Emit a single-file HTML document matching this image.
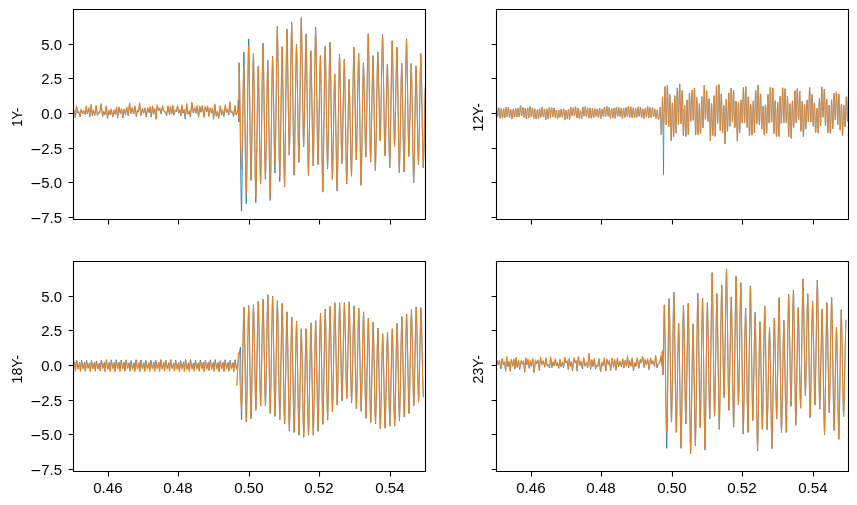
<!DOCTYPE html><html><head><meta charset="utf-8"><style>html,body{margin:0;padding:0;background:#fff;width:857px;height:505px;overflow:hidden}svg{display:block;will-change:transform}text{font-family:"Liberation Sans",sans-serif;fill:#000}</style></head><body><svg width="857" height="505" viewBox="0 0 857 505">
<defs>
<clipPath id="c0"><rect x="73.20" y="9.20" width="352.60" height="210.60"/></clipPath>
<clipPath id="c1"><rect x="496.20" y="9.20" width="352.60" height="210.60"/></clipPath>
<clipPath id="c2"><rect x="73.20" y="261.20" width="352.60" height="210.60"/></clipPath>
<clipPath id="c3"><rect x="496.20" y="261.20" width="352.60" height="210.60"/></clipPath>
</defs>
<g clip-path="url(#c0)" fill="none" stroke-width="0.85" stroke-linejoin="round">
<path stroke="#1f77b4" d="M73.11 112.74L74.12 110.94L75.35 117.81L76.48 106.57L77.75 112.99L79.06 112.62L80.14 116.79L81.16 109.70L82.62 113.71L83.87 111.27L85.22 114.68L86.22 106.81L87.35 113.94L88.77 108.55L89.82 116.94L91.26 105.12L92.29 115.61L93.36 110.88L94.85 115.64L96.17 106.08L97.39 115.50L98.44 113.12L99.77 113.19L101.10 104.47L102.58 116.57L103.65 111.81L104.93 114.74L106.25 106.61L107.45 118.43L108.89 110.72L110.05 114.80L111.24 109.68L112.72 116.97L113.98 110.67L115.28 114.39L116.54 107.93L117.61 118.17L118.99 107.72L120.20 113.53L121.51 109.28L122.88 118.07L124.06 109.66L125.53 114.85L126.67 107.85L128.16 115.69L129.61 103.69L130.82 113.74L132.28 108.18L133.54 114.11L134.94 106.65L136.26 116.61L137.46 110.73L138.56 111.84L139.62 103.51L140.92 115.53L142.40 109.19L143.72 113.31L144.92 108.52L146.29 117.03L147.69 108.38L149.15 112.76L150.16 107.11L151.25 117.16L152.54 106.46L153.56 114.34L154.82 109.54L156.13 119.25L157.15 105.80L158.58 110.67L159.74 108.77L161.13 114.12L162.53 106.41L163.97 111.68L165.29 112.37L166.62 115.70L168.03 106.56L169.46 114.92L170.47 107.31L171.75 114.20L172.88 106.01L173.93 115.29L175.26 110.49L176.45 111.69L177.57 106.12L178.61 113.26L179.76 110.37L180.83 116.06L181.87 105.70L183.02 113.24L184.12 110.22L185.30 119.10L186.67 104.45L188.00 114.25L189.26 111.47L190.40 117.09L191.85 102.88L193.25 112.96L194.74 108.35L196.13 113.29L197.22 106.13L198.58 117.30L199.79 106.76L201.07 112.33L202.43 106.28L203.89 117.28L205.27 106.99L206.62 111.97L207.68 106.59L208.74 116.57L209.97 108.52L211.42 113.13L212.46 108.70L213.61 119.23L214.84 104.84L216.29 116.44L217.48 111.81L218.73 118.62L220.16 106.65L221.50 115.12L222.64 110.57L223.91 116.54L225.35 105.67L226.40 112.53L227.52 109.89L228.77 115.01L229.79 102.61L230.82 112.33L232.27 112.17L233.65 116.60L234.99 106.35L236.07 114.92L237.53 112.23L238.30 100.00L238.90 122.00L238.99 92.38L239.08 62.76L239.35 72.03L239.61 86.35L239.88 104.77L240.15 125.88L240.41 147.92L240.68 169.03L240.94 187.46L241.21 201.78L241.47 211.05L241.74 201.11L242.01 185.76L242.27 166.01L242.54 143.39L242.80 119.76L243.07 97.14L243.33 77.38L243.60 62.04L243.87 52.10L244.13 61.58L244.40 76.22L244.66 95.06L244.93 116.65L245.19 139.19L245.46 160.78L245.73 179.62L245.99 194.26L246.26 203.74L246.52 193.43L246.79 177.52L247.05 157.04L247.32 133.57L247.59 109.07L247.85 85.61L248.12 65.13L248.38 49.21L248.65 38.91L248.91 47.76L249.18 61.43L249.45 79.02L249.71 99.18L249.98 120.22L250.24 140.38L250.51 157.97L250.77 171.64L251.04 180.50L251.31 172.55L251.57 160.28L251.84 144.49L252.10 126.40L252.37 107.51L252.63 89.42L252.90 73.63L253.17 61.37L253.43 53.42L253.70 62.75L253.96 77.15L254.23 95.69L254.49 116.93L254.76 139.11L255.03 160.35L255.29 178.89L255.56 193.29L255.82 202.62L256.09 194.09L256.36 180.91L256.62 163.94L256.89 144.51L257.15 124.22L257.42 104.79L257.68 87.82L257.95 74.64L258.22 66.11L258.48 73.46L258.75 84.80L259.01 99.41L259.28 116.14L259.54 133.61L259.81 150.34L260.08 164.95L260.34 176.29L260.61 183.64L260.87 174.85L261.14 161.27L261.40 143.78L261.67 123.76L261.94 102.85L262.20 82.82L262.47 65.34L262.73 51.76L263.00 42.97L263.26 51.50L263.53 64.67L263.80 81.62L264.06 101.04L264.33 121.31L264.59 140.73L264.86 157.68L265.12 170.85L265.39 179.38L265.66 171.93L265.92 160.43L266.19 145.62L266.45 128.66L266.72 110.94L266.98 93.98L267.25 79.18L267.52 67.67L267.78 60.22L268.05 68.99L268.31 82.53L268.58 99.96L268.84 119.93L269.11 140.78L269.38 160.75L269.64 178.18L269.91 191.72L270.17 200.49L270.44 191.45L270.70 177.50L270.97 159.54L271.24 138.97L271.50 117.48L271.77 96.91L272.03 78.95L272.30 65.00L272.56 55.96L272.83 63.28L273.10 74.59L273.36 89.14L273.63 105.82L273.89 123.23L274.16 139.90L274.42 154.46L274.69 165.76L274.96 173.09L275.22 163.89L275.49 149.69L275.75 131.42L276.02 110.48L276.28 88.62L276.55 67.69L276.82 49.41L277.08 35.21L277.35 26.01L277.61 35.74L277.88 50.75L278.15 70.07L278.41 92.21L278.68 115.32L278.94 137.45L279.21 156.78L279.47 171.79L279.74 181.51L280.01 173.07L280.27 160.04L280.54 143.26L280.80 124.05L281.07 103.98L281.33 84.77L281.60 67.99L281.87 54.96L282.13 46.52L282.40 55.29L282.66 68.83L282.93 86.26L283.19 106.23L283.46 127.08L283.73 147.05L283.99 164.48L284.26 178.02L284.52 186.79L284.79 176.92L285.05 161.68L285.32 142.07L285.59 119.60L285.85 96.14L286.12 73.68L286.38 54.07L286.65 38.83L286.91 28.96L287.18 36.85L287.45 49.03L287.71 64.70L287.98 82.66L288.24 101.42L288.51 119.38L288.77 135.05L289.04 147.23L289.31 155.12L289.57 146.81L289.84 133.99L290.10 117.48L290.37 98.56L290.63 78.82L290.90 59.90L291.17 43.39L291.43 30.57L291.70 22.26L291.96 31.82L292.23 46.59L292.49 65.60L292.76 87.37L293.03 110.11L293.29 131.88L293.56 150.89L293.82 165.65L294.09 175.22L294.35 167.04L294.62 154.41L294.89 138.15L295.15 119.53L295.42 100.08L295.68 81.46L295.95 65.20L296.21 52.57L296.48 44.39L296.75 51.77L297.01 63.18L297.28 77.86L297.54 94.68L297.81 112.24L298.08 129.06L298.34 143.74L298.61 155.14L298.87 162.53L299.14 153.47L299.40 139.48L299.67 121.47L299.94 100.83L300.20 79.29L300.47 58.66L300.73 40.65L301.00 26.65L301.26 17.59L301.53 25.66L301.80 38.13L302.06 54.17L302.33 72.55L302.59 91.74L302.86 110.12L303.12 126.16L303.39 138.62L303.66 146.70L303.92 139.64L304.19 128.74L304.45 114.72L304.72 98.65L304.98 81.88L305.25 65.81L305.52 51.78L305.78 40.89L306.05 33.83L306.31 42.70L306.58 56.39L306.84 74.01L307.11 94.19L307.38 115.27L307.64 135.45L307.91 153.07L308.17 166.76L308.44 175.63L308.70 167.81L308.97 155.75L309.24 140.22L309.50 122.44L309.77 103.87L310.03 86.08L310.30 70.55L310.56 58.49L310.83 50.68L311.10 57.88L311.36 68.99L311.63 83.29L311.89 99.68L312.16 116.78L312.42 133.17L312.69 147.47L312.96 158.58L313.22 165.78L313.49 157.10L313.75 143.71L314.02 126.47L314.28 106.72L314.55 86.09L314.82 66.34L315.08 49.10L315.35 35.71L315.61 27.03L315.88 35.64L316.14 48.94L316.41 66.05L316.68 85.66L316.94 106.13L317.21 125.74L317.47 142.85L317.74 156.15L318.00 164.76L318.27 157.94L318.54 147.39L318.80 133.82L319.07 118.27L319.33 102.04L319.60 86.49L319.87 72.92L320.13 62.38L320.40 55.55L320.66 64.09L320.93 77.28L321.19 94.26L321.46 113.71L321.73 134.01L321.99 153.46L322.26 170.44L322.52 183.63L322.79 192.17L323.05 183.05L323.32 168.97L323.59 150.84L323.85 130.08L324.12 108.40L324.38 87.64L324.65 69.52L324.91 55.44L325.18 46.31L325.45 53.98L325.71 65.80L325.98 81.03L326.24 98.47L326.51 116.67L326.77 134.11L327.04 149.34L327.31 161.16L327.57 168.82L327.84 160.91L328.10 148.69L328.37 132.96L328.63 114.95L328.90 96.13L329.17 78.12L329.43 62.39L329.70 50.17L329.96 42.25L330.23 50.83L330.49 64.07L330.76 81.11L331.03 100.63L331.29 121.01L331.56 140.53L331.82 157.57L332.09 170.81L332.35 179.38L332.62 172.79L332.89 162.61L333.15 149.50L333.42 134.49L333.68 118.81L333.95 103.80L334.21 90.70L334.48 80.52L334.75 73.92L335.01 81.25L335.28 92.56L335.54 107.11L335.81 123.78L336.07 141.19L336.34 157.87L336.61 172.42L336.87 183.73L337.14 191.05L337.40 182.47L337.67 169.22L337.93 152.17L338.20 132.64L338.47 112.24L338.73 92.71L339.00 75.66L339.26 62.41L339.53 53.83L339.79 60.69L340.06 71.30L340.33 84.94L340.59 100.58L340.86 116.90L341.12 132.53L341.39 146.18L341.66 156.78L341.92 163.65L342.19 157.12L342.45 147.03L342.72 134.06L342.98 119.19L343.25 103.66L343.52 88.80L343.78 75.82L344.05 65.74L344.31 59.21L344.58 67.01L344.84 79.06L345.11 94.58L345.38 112.35L345.64 130.91L345.91 148.68L346.17 164.19L346.44 176.24L346.70 184.05L346.97 177.49L347.24 167.37L347.50 154.34L347.77 139.42L348.03 123.83L348.30 108.91L348.56 95.88L348.83 85.76L349.10 79.20L349.36 85.27L349.63 94.64L349.89 106.69L350.16 120.51L350.42 134.93L350.69 148.74L350.96 160.80L351.22 170.17L351.49 176.23L351.75 168.15L352.02 155.68L352.28 139.63L352.55 121.23L352.82 102.03L353.08 83.63L353.35 67.58L353.61 55.11L353.88 47.03L354.14 54.09L354.41 65.00L354.68 79.03L354.94 95.11L355.21 111.91L355.47 127.99L355.74 142.02L356.00 152.93L356.27 159.99L356.54 153.33L356.80 143.04L357.07 129.80L357.33 114.63L357.60 98.79L357.86 83.62L358.13 70.37L358.40 60.08L358.66 53.42L358.93 61.67L359.19 74.41L359.46 90.81L359.72 109.59L359.99 129.20L360.26 147.98L360.52 164.38L360.79 177.12L361.05 185.37L361.32 177.70L361.58 165.86L361.85 150.63L362.12 133.18L362.38 114.95L362.65 97.50L362.91 82.26L363.18 70.43L363.45 62.76L363.71 68.67L363.98 77.79L364.24 89.53L364.51 102.98L364.77 117.03L365.04 130.48L365.31 142.22L365.57 151.34L365.84 157.25L366.10 149.54L366.37 137.62L366.63 122.28L366.90 104.71L367.17 86.37L367.43 68.80L367.70 53.46L367.96 41.55L368.23 33.83L368.49 41.85L368.76 54.24L369.03 70.18L369.29 88.44L369.56 107.51L369.82 125.78L370.09 141.72L370.35 154.10L370.62 162.13L370.89 155.46L371.15 145.17L371.42 131.93L371.68 116.76L371.95 100.92L372.21 85.75L372.48 72.50L372.75 62.22L373.01 55.55L373.28 62.74L373.54 73.84L373.81 88.13L374.07 104.50L374.34 121.60L374.61 137.97L374.87 152.26L375.14 163.36L375.40 170.55L375.67 163.12L375.93 151.66L376.20 136.90L376.47 120.00L376.73 102.35L377.00 85.44L377.26 70.69L377.53 59.22L377.79 51.80L378.06 57.37L378.33 65.99L378.59 77.07L378.86 89.77L379.12 103.04L379.39 115.74L379.65 126.82L379.92 135.43L380.19 141.01L380.45 134.35L380.72 124.06L380.98 110.82L381.25 95.65L381.51 79.81L381.78 64.64L382.05 51.39L382.31 41.10L382.58 34.44L382.84 42.03L383.11 53.75L383.37 68.83L383.64 86.11L383.91 104.16L384.17 121.44L384.44 136.52L384.70 148.24L384.97 155.83L385.24 150.11L385.50 141.29L385.77 129.92L386.03 116.90L386.30 103.31L386.56 90.29L386.83 78.93L387.10 70.10L387.36 64.38L387.63 70.85L387.89 80.83L388.16 93.69L388.42 108.41L388.69 123.78L388.96 138.51L389.22 151.36L389.49 161.34L389.75 167.81L390.02 159.86L390.28 147.59L390.55 131.80L390.82 113.72L391.08 94.83L391.35 76.74L391.61 60.95L391.88 48.68L392.14 40.73L392.41 47.36L392.68 57.59L392.94 70.76L393.21 85.84L393.47 101.59L393.74 116.67L394.00 129.84L394.27 140.07L394.54 146.70L394.80 140.46L395.07 130.84L395.33 118.46L395.60 104.27L395.86 89.45L396.13 75.27L396.40 62.88L396.66 53.26L396.93 47.03L397.19 54.88L397.46 67.01L397.72 82.63L397.99 100.52L398.26 119.19L398.52 137.08L398.79 152.69L399.05 164.82L399.32 172.68L399.58 165.85L399.85 155.29L400.12 141.71L400.38 126.15L400.65 109.90L400.91 94.34L401.18 80.76L401.44 70.20L401.71 63.37L401.98 70.16L402.24 80.66L402.51 94.17L402.77 109.64L403.04 125.80L403.30 141.27L403.57 154.78L403.84 165.27L404.10 172.07L404.37 163.73L404.63 150.86L404.90 134.28L405.16 115.30L405.43 95.48L405.70 76.49L405.96 59.92L406.23 47.04L406.49 38.70L406.76 46.08L407.03 57.46L407.29 72.12L407.56 88.91L407.82 106.44L408.09 123.23L408.35 137.88L408.62 149.27L408.89 156.64L409.15 150.81L409.42 141.81L409.68 130.22L409.95 116.94L410.21 103.07L410.48 89.80L410.75 78.20L411.01 69.20L411.28 63.37L411.54 70.82L411.81 82.34L412.07 97.16L412.34 114.13L412.61 131.86L412.87 148.84L413.14 163.66L413.40 175.17L413.67 182.63L413.93 175.34L414.20 164.09L414.47 149.61L414.73 133.03L415.00 115.71L415.26 99.12L415.53 84.64L415.79 73.39L416.06 66.11L416.33 72.27L416.59 81.78L416.86 94.03L417.12 108.06L417.39 122.71L417.65 136.74L417.92 148.99L418.19 158.50L418.45 164.66L418.72 157.71L418.98 146.97L419.25 133.14L419.51 117.31L419.78 100.77L420.05 84.94L420.31 71.12L420.58 60.38L420.84 53.42L421.11 60.57L421.37 71.62L421.64 85.83L421.91 102.11L422.17 119.12L422.44 135.40L422.70 149.61L422.97 160.66L423.23 167.81L423.50 162.47L423.77 154.21L424.03 143.60L424.30 131.43L424.56 118.73L424.83 106.56L425.09 95.94L425.36 87.69L425.63 82.35"/>
<path stroke="#ff7f0e" d="M73.11 111.74L74.12 109.94L75.35 116.81L76.48 105.57L77.75 111.99L79.06 111.62L80.14 115.79L81.16 108.70L82.62 112.71L83.87 110.27L85.22 113.68L86.22 105.81L87.35 112.94L88.77 107.55L89.82 115.94L91.26 104.12L92.29 114.61L93.36 109.88L94.85 114.64L96.17 105.08L97.39 114.50L98.44 112.12L99.77 112.19L101.10 103.47L102.58 115.57L103.65 110.81L104.93 113.74L106.25 105.61L107.45 117.43L108.89 109.72L110.05 113.80L111.24 108.68L112.72 115.97L113.98 109.67L115.28 113.39L116.54 106.93L117.61 117.17L118.99 106.72L120.20 112.53L121.51 108.28L122.88 117.07L124.06 108.66L125.53 113.85L126.67 106.85L128.16 114.69L129.61 102.69L130.82 112.74L132.28 107.18L133.54 113.11L134.94 105.65L136.26 115.61L137.46 109.73L138.56 110.84L139.62 102.51L140.92 114.53L142.40 108.19L143.72 112.31L144.92 107.52L146.29 116.03L147.69 107.38L149.15 111.76L150.16 106.11L151.25 116.16L152.54 105.46L153.56 113.34L154.82 108.54L156.13 118.25L157.15 104.80L158.58 109.67L159.74 107.77L161.13 113.12L162.53 105.41L163.97 110.68L165.29 111.37L166.62 114.70L168.03 105.56L169.46 113.92L170.47 106.31L171.75 113.20L172.88 105.01L173.93 114.29L175.26 109.49L176.45 110.69L177.57 105.12L178.61 112.26L179.76 109.37L180.83 115.06L181.87 104.70L183.02 112.24L184.12 109.22L185.30 118.10L186.67 103.45L188.00 113.25L189.26 110.47L190.40 116.09L191.85 101.88L193.25 111.96L194.74 107.35L196.13 112.29L197.22 105.13L198.58 116.30L199.79 105.76L201.07 111.33L202.43 105.28L203.89 116.28L205.27 105.99L206.62 110.97L207.68 105.59L208.74 115.57L209.97 107.52L211.42 112.13L212.46 107.70L213.61 118.23L214.84 103.84L216.29 115.44L217.48 110.81L218.73 117.62L220.16 105.65L221.50 114.12L222.64 109.57L223.91 115.54L225.35 104.67L226.40 111.53L227.52 108.89L228.77 114.01L229.79 101.61L230.82 111.33L232.27 111.17L233.65 115.60L234.99 105.35L236.07 113.92L237.53 111.23L238.30 108.00L238.90 118.00L238.99 90.75L239.08 63.50L239.35 70.16L239.61 80.44L239.88 93.67L240.15 108.84L240.41 124.66L240.68 139.82L240.94 153.06L241.21 163.34L241.47 170.00L241.74 163.56L242.01 153.62L242.27 140.82L242.54 126.15L242.80 110.85L243.07 96.18L243.33 83.38L243.60 73.44L243.87 67.00L244.13 74.94L244.40 87.20L244.66 102.98L244.93 121.06L245.19 139.94L245.46 158.02L245.73 173.80L245.99 186.06L246.26 194.00L246.52 184.71L246.79 170.36L247.05 151.90L247.32 130.74L247.59 108.66L247.85 87.50L248.12 69.04L248.38 54.69L248.65 45.40L248.91 53.79L249.18 66.73L249.45 83.39L249.71 102.48L249.98 122.42L250.24 141.50L250.51 158.17L250.77 171.11L251.04 179.50L251.31 171.67L251.57 159.58L251.84 144.03L252.10 126.20L252.37 107.60L252.63 89.77L252.90 74.22L253.17 62.13L253.43 54.30L253.70 63.29L253.96 77.16L254.23 95.01L254.49 115.47L254.76 136.83L255.03 157.28L255.29 175.14L255.56 189.01L255.82 198.00L256.09 189.80L256.36 177.13L256.62 160.83L256.89 142.15L257.15 122.65L257.42 103.97L257.68 87.67L257.95 75.00L258.22 66.80L258.48 74.04L258.75 85.22L259.01 99.61L259.28 116.09L259.54 133.31L259.81 149.79L260.08 164.18L260.34 175.36L260.61 182.60L260.87 173.93L261.14 160.55L261.40 143.33L261.67 123.60L261.94 103.00L262.20 83.27L262.47 66.05L262.73 52.67L263.00 44.00L263.26 52.40L263.53 65.38L263.80 82.08L264.06 101.21L264.33 121.19L264.59 140.32L264.86 157.02L265.12 170.00L265.39 178.40L265.66 171.06L265.92 159.72L266.19 145.14L266.45 128.42L266.72 110.98L266.98 94.26L267.25 79.68L267.52 68.34L267.78 61.00L268.05 69.64L268.31 82.98L268.58 100.16L268.84 119.83L269.11 140.37L269.38 160.04L269.64 177.22L269.91 190.56L270.17 199.20L270.44 190.29L270.70 176.55L270.97 158.85L271.24 138.58L271.50 117.42L271.77 97.15L272.03 79.45L272.30 65.71L272.56 56.80L272.83 63.69L273.10 74.33L273.36 88.02L273.63 103.71L273.89 120.09L274.16 135.78L274.42 149.47L274.69 160.11L274.96 167.00L275.22 158.26L275.49 144.78L275.75 127.42L276.02 107.53L276.28 86.77L276.55 66.88L276.82 49.52L277.08 36.04L277.35 27.30L277.61 36.62L277.88 51.02L278.15 69.55L278.41 90.77L278.68 112.93L278.94 134.15L279.21 152.68L279.47 167.08L279.74 176.40L280.01 168.34L280.27 155.90L280.54 139.88L280.80 121.53L281.07 102.37L281.33 84.02L281.60 68.00L281.87 55.56L282.13 47.50L282.40 56.14L282.66 69.48L282.93 86.66L283.19 106.33L283.46 126.87L283.73 146.54L283.99 163.72L284.26 177.06L284.52 185.70L284.79 175.98L285.05 160.96L285.32 141.64L285.59 119.51L285.85 96.39L286.12 74.26L286.38 54.94L286.65 39.92L286.91 30.20L287.18 37.97L287.45 49.97L287.71 65.42L287.98 83.11L288.24 101.59L288.51 119.28L288.77 134.73L289.04 146.73L289.31 154.50L289.57 146.31L289.84 133.68L290.10 117.41L290.37 98.78L290.63 79.32L290.90 60.69L291.17 44.42L291.43 31.79L291.70 23.60L291.96 33.02L292.23 47.57L292.49 66.30L292.76 87.75L293.03 110.15L293.29 131.60L293.56 150.33L293.82 164.88L294.09 174.30L294.35 166.24L294.62 153.80L294.89 137.78L295.15 119.43L295.42 100.27L295.68 81.92L295.95 65.90L296.21 53.46L296.48 45.40L296.75 52.68L297.01 63.92L297.28 78.38L297.54 94.95L297.81 112.25L298.08 128.82L298.34 143.28L298.61 154.52L298.87 161.80L299.14 152.87L299.40 139.08L299.67 121.34L299.94 101.01L300.20 79.79L300.47 59.46L300.73 41.72L301.00 27.93L301.26 19.00L301.53 26.95L301.80 39.23L302.06 55.04L302.33 73.15L302.59 92.05L302.86 110.16L303.12 125.97L303.39 138.25L303.66 146.20L303.92 139.25L304.19 128.51L304.45 114.69L304.72 98.86L304.98 82.34L305.25 66.51L305.52 52.69L305.78 41.95L306.05 35.00L306.31 43.74L306.58 57.22L306.84 74.58L307.11 94.47L307.38 115.23L307.64 135.12L307.91 152.48L308.17 165.96L308.44 174.70L308.70 167.00L308.97 155.12L309.24 139.82L309.50 122.30L309.77 104.00L310.03 86.48L310.30 71.18L310.56 59.30L310.83 51.60L311.10 58.69L311.36 69.64L311.63 83.73L311.89 99.87L312.16 116.73L312.42 132.87L312.69 146.96L312.96 157.91L313.22 165.00L313.49 156.45L313.75 143.25L314.02 126.27L314.28 106.81L314.55 86.49L314.82 67.03L315.08 50.05L315.35 36.85L315.61 28.30L315.88 36.79L316.14 49.89L316.41 66.75L316.68 86.07L316.94 106.23L317.21 125.55L317.47 142.41L317.74 155.51L318.00 164.00L318.27 157.27L318.54 146.88L318.80 133.51L319.07 118.20L319.33 102.20L319.60 86.89L319.87 73.52L320.13 63.13L320.40 56.40L320.66 64.82L320.93 77.81L321.19 94.54L321.46 113.70L321.73 133.70L321.99 152.86L322.26 169.59L322.52 182.58L322.79 191.00L323.05 182.01L323.32 168.14L323.59 150.28L323.85 129.83L324.12 108.47L324.38 88.02L324.65 70.16L324.91 56.29L325.18 47.30L325.45 54.85L325.71 66.50L325.98 81.50L326.24 98.68L326.51 116.62L326.77 133.80L327.04 148.80L327.31 160.45L327.57 168.00L327.84 160.20L328.10 148.16L328.37 132.67L328.63 114.92L328.90 96.38L329.17 78.63L329.43 63.14L329.70 51.10L329.96 43.30L330.23 51.75L330.49 64.79L330.76 81.58L331.03 100.81L331.29 120.89L331.56 140.12L331.82 156.91L332.09 169.95L332.35 178.40L332.62 171.90L332.89 161.87L333.15 148.96L333.42 134.17L333.68 118.73L333.95 103.94L334.21 91.03L334.48 81.00L334.75 74.50L335.01 81.72L335.28 92.86L335.54 107.20L335.81 123.62L336.07 140.78L336.34 157.20L336.61 171.54L336.87 182.68L337.14 189.90L337.40 181.45L337.67 168.39L337.93 151.59L338.20 132.35L338.47 112.25L338.73 93.01L339.00 76.21L339.26 63.15L339.53 54.70L339.79 61.47L340.06 71.91L340.33 85.36L340.59 100.76L340.86 116.84L341.12 132.24L341.39 145.69L341.66 156.13L341.92 162.90L342.19 156.46L342.45 146.53L342.72 133.75L342.98 119.10L343.25 103.80L343.52 89.16L343.78 76.37L344.05 66.44L344.31 60.00L344.58 67.69L344.84 79.57L345.11 94.85L345.38 112.36L345.64 130.64L345.91 148.15L346.17 163.43L346.44 175.31L346.70 183.00L346.97 176.54L347.24 166.57L347.50 153.73L347.77 139.03L348.03 123.67L348.30 108.97L348.56 96.13L348.83 86.16L349.10 79.70L349.36 85.68L349.63 94.91L349.89 106.79L350.16 120.40L350.42 134.60L350.69 148.21L350.96 160.09L351.22 169.32L351.49 175.30L351.75 167.34L352.02 155.05L352.28 139.23L352.55 121.11L352.82 102.19L353.08 84.07L353.35 68.25L353.61 55.96L353.88 48.00L354.14 54.96L354.41 65.71L354.68 79.53L354.94 95.38L355.21 111.92L355.47 127.77L355.74 141.59L356.00 152.34L356.27 159.30L356.54 152.73L356.80 142.60L357.07 129.55L357.33 114.60L357.60 99.00L357.86 84.05L358.13 71.00L358.40 60.87L358.66 54.30L358.93 62.43L359.19 74.98L359.46 91.13L359.72 109.64L359.99 128.96L360.26 147.47L360.52 163.62L360.79 176.17L361.05 184.30L361.32 176.75L361.58 165.08L361.85 150.07L362.12 132.88L362.38 114.92L362.65 97.73L362.91 82.72L363.18 71.05L363.45 63.50L363.71 69.32L363.98 78.31L364.24 89.88L364.51 103.13L364.77 116.97L365.04 130.22L365.31 141.79L365.57 150.78L365.84 156.60L366.10 149.00L366.37 137.26L366.63 122.15L366.90 104.84L367.17 86.76L367.43 69.45L367.70 54.34L367.96 42.60L368.23 35.00L368.49 42.90L368.76 55.11L369.03 70.81L369.29 88.81L369.56 107.59L369.82 125.59L370.09 141.29L370.35 153.50L370.62 161.40L370.89 154.83L371.15 144.70L371.42 131.65L371.68 116.70L371.95 101.10L372.21 86.15L372.48 73.10L372.75 62.97L373.01 56.40L373.28 63.49L373.54 74.42L373.81 88.50L374.07 104.63L374.34 121.47L374.61 137.60L374.87 151.68L375.14 162.61L375.40 169.70L375.67 162.38L375.93 151.09L376.20 136.55L376.47 119.90L376.73 102.50L377.00 85.85L377.26 71.31L377.53 60.02L377.79 52.70L378.06 58.20L378.33 66.68L378.59 77.61L378.86 90.12L379.12 103.18L379.39 115.69L379.65 126.62L379.92 135.10L380.19 140.60L380.45 134.03L380.72 123.90L380.98 110.85L381.25 95.90L381.51 80.30L381.78 65.35L382.05 52.30L382.31 42.17L382.58 35.60L382.84 43.08L383.11 54.63L383.37 69.49L383.64 86.51L383.91 104.29L384.17 121.31L384.44 136.17L384.70 147.72L384.97 155.20L385.24 149.57L385.50 140.87L385.77 129.67L386.03 116.85L386.30 103.45L386.56 90.63L386.83 79.43L387.10 70.73L387.36 65.10L387.63 71.47L387.89 81.31L388.16 93.97L388.42 108.48L388.69 123.62L388.96 138.13L389.22 150.79L389.49 160.63L389.75 167.00L390.02 159.17L390.28 147.08L390.55 131.53L390.82 113.70L391.08 95.10L391.35 77.27L391.61 61.72L391.88 49.63L392.14 41.80L392.41 48.33L392.68 58.41L392.94 71.38L393.21 86.24L393.47 101.76L393.74 116.62L394.00 129.59L394.27 139.67L394.54 146.20L394.80 140.06L395.07 130.58L395.33 118.38L395.60 104.40L395.86 89.80L396.13 75.82L396.40 63.62L396.66 54.14L396.93 48.00L397.19 55.74L397.46 67.69L397.72 83.08L397.99 100.70L398.26 119.10L398.52 136.72L398.79 152.11L399.05 164.06L399.32 171.80L399.58 165.06L399.85 154.67L400.12 141.28L400.38 125.95L400.65 109.95L400.91 94.62L401.18 81.23L401.44 70.84L401.71 64.10L401.98 70.80L402.24 81.14L402.51 94.44L402.77 109.69L403.04 125.61L403.30 140.85L403.57 154.16L403.84 164.50L404.10 171.20L404.37 162.98L404.63 150.30L404.90 133.97L405.16 115.27L405.43 95.73L405.70 77.03L405.96 60.70L406.23 48.02L406.49 39.80L406.76 47.07L407.03 58.28L407.29 72.72L407.56 89.26L407.82 106.54L408.09 123.08L408.35 137.52L408.62 148.73L408.89 156.00L409.15 150.25L409.42 141.38L409.68 129.96L409.95 116.88L410.21 103.22L410.48 90.14L410.75 78.72L411.01 69.85L411.28 64.10L411.54 71.45L411.81 82.79L412.07 97.39L412.34 114.12L412.61 131.58L412.87 148.31L413.14 162.91L413.40 174.25L413.67 181.60L413.93 174.42L414.20 163.34L414.47 149.07L414.73 132.73L415.00 115.67L415.26 99.33L415.53 85.06L415.79 73.98L416.06 66.80L416.33 72.87L416.59 82.25L416.86 94.31L417.12 108.13L417.39 122.57L417.65 136.39L417.92 148.45L418.19 157.83L418.45 163.90L418.72 157.05L418.98 146.47L419.25 132.85L419.51 117.25L419.78 100.95L420.05 85.35L420.31 71.73L420.58 61.15L420.84 54.30L421.11 61.35L421.37 72.23L421.64 86.23L421.91 102.27L422.17 119.03L422.44 135.07L422.70 149.07L422.97 159.95L423.23 167.00L423.50 161.73L423.77 153.61L424.03 143.14L424.30 131.16L424.56 118.64L424.83 106.66L425.09 96.19L425.36 88.07L425.63 82.80"/>
</g>
<g clip-path="url(#c1)" fill="none" stroke-width="0.68" stroke-linejoin="round">
<path stroke="#1f77b4" d="M495.60 114.59L495.80 111.78L496.00 109.73L496.20 108.18L496.40 107.23L496.60 107.37L496.80 109.13L497.00 110.62L497.20 113.22L497.40 114.80L497.60 116.55L497.80 116.49L498.00 114.93L498.20 112.46L498.40 110.23L498.60 108.78L498.80 107.66L499.00 108.43L499.20 110.70L499.40 112.70L499.60 114.51L499.80 116.60L500.00 118.46L500.20 118.17L500.40 115.89L500.60 113.73L500.80 110.75L501.00 108.89L501.20 108.44L501.40 108.67L501.60 110.71L501.80 112.12L502.00 114.90L502.20 116.89L502.40 118.13L502.60 118.14L502.80 117.01L503.00 114.90L503.20 112.20L503.40 109.92L503.60 108.72L503.80 108.87L504.00 110.40L504.20 112.22L504.40 115.12L504.60 116.67L504.80 117.88L505.00 116.82L505.20 115.00L505.40 112.97L505.60 110.03L505.80 108.79L506.00 107.48L506.20 106.99L506.40 108.07L506.60 109.45L506.80 113.00L507.00 115.33L507.20 117.03L507.40 116.06L507.60 113.88L507.80 111.75L508.00 109.99L508.20 108.26L508.40 107.44L508.60 108.66L508.80 110.52L509.00 112.65L509.20 114.56L509.40 116.36L509.60 117.49L509.80 116.78L510.00 115.04L510.20 112.85L510.40 110.99L510.60 109.25L510.80 109.54L511.00 109.83L511.20 111.40L511.40 112.81L511.60 115.85L511.80 117.98L512.00 119.05L512.20 118.17L512.40 115.87L512.60 113.48L512.80 111.76L513.00 110.31L513.20 109.24L513.40 108.81L513.60 110.15L513.80 112.74L514.00 115.19L514.20 117.06L514.40 117.22L514.60 116.76L514.80 115.78L515.00 113.47L515.20 111.30L515.40 108.57L515.60 108.19L515.80 108.39L516.00 109.38L516.20 111.86L516.40 114.55L516.60 115.98L516.80 117.09L517.00 116.16L517.20 115.01L517.40 113.03L517.60 111.09L517.80 109.24L518.00 107.99L518.20 108.27L518.40 109.78L518.60 112.30L518.80 114.87L519.00 116.38L519.20 116.86L519.40 116.34L519.60 114.25L519.80 112.13L520.00 108.92L520.20 107.27L520.40 105.64L520.60 105.63L520.80 107.12L521.00 110.52L521.20 113.55L521.40 115.39L521.60 115.94L521.80 115.33L522.00 114.13L522.20 111.88L522.40 109.82L522.60 108.43L522.80 107.86L523.00 107.38L523.20 108.26L523.40 110.29L523.60 113.07L523.80 115.96L524.00 117.50L524.20 117.23L524.40 115.65L524.60 113.69L524.80 111.65L525.00 109.48L525.20 108.10L525.40 108.51L525.60 110.35L525.80 113.25L526.00 115.80L526.20 117.89L526.40 118.99L526.60 118.41L526.80 115.62L527.00 113.02L527.20 110.22L527.40 108.58L527.60 108.04L527.80 107.95L528.00 109.29L528.20 111.61L528.40 114.63L528.60 116.90L528.80 117.69L529.00 117.43L529.20 115.89L529.40 112.36L529.60 109.35L529.80 106.90L530.00 106.39L530.20 106.78L530.40 108.92L530.60 111.56L530.80 113.50L531.00 115.83L531.20 117.09L531.40 116.81L531.60 114.69L531.80 112.96L532.00 110.51L532.20 109.17L532.40 107.89L532.60 107.98L532.80 109.40L533.00 112.16L533.20 114.75L533.40 116.92L533.60 117.59L533.80 118.55L534.00 116.88L534.20 114.99L534.40 111.46L534.60 109.93L534.80 108.80L535.00 109.72L535.20 111.86L535.40 114.14L535.60 116.20L535.80 117.68L536.00 118.99L536.20 118.92L536.40 118.07L536.60 115.90L536.80 113.56L537.00 111.73L537.20 110.42L537.40 109.71L537.60 110.22L537.80 111.77L538.00 115.18L538.20 117.05L538.40 118.52L538.60 118.09L538.80 117.45L539.00 114.92L539.20 112.49L539.40 109.92L539.60 108.67L539.80 109.14L540.00 110.25L540.20 112.31L540.40 114.84L540.60 116.31L540.80 117.29L541.00 116.22L541.20 115.12L541.40 113.24L541.60 111.03L541.80 109.19L542.00 107.04L542.20 107.92L542.40 109.06L542.60 112.20L542.80 114.52L543.00 115.85L543.20 116.69L543.40 116.62L543.60 116.64L543.80 114.81L544.00 112.60L544.20 109.49L544.40 108.86L544.60 109.24L544.80 111.36L545.00 113.22L545.20 114.71L545.40 117.35L545.60 119.39L545.80 119.92L546.00 118.33L546.20 115.45L546.40 112.48L546.60 110.59L546.80 108.87L547.00 109.57L547.20 110.59L547.40 113.67L547.60 116.31L547.80 118.24L548.00 118.74L548.20 117.64L548.40 115.73L548.60 113.45L548.80 110.80L549.00 108.43L549.20 107.33L549.40 107.48L549.60 109.11L549.80 110.71L550.00 113.49L550.20 115.83L550.40 117.98L550.60 117.06L550.80 115.10L551.00 112.52L551.20 110.62L551.40 108.47L551.60 107.69L551.80 107.96L552.00 109.37L552.20 110.84L552.40 113.45L552.60 115.90L552.80 116.87L553.00 115.99L553.20 114.55L553.40 113.20L553.60 110.82L553.80 109.09L554.00 107.92L554.20 108.13L554.40 109.59L554.60 111.95L554.80 114.89L555.00 116.52L555.20 117.51L555.40 117.63L555.60 117.50L555.80 114.82L556.00 112.90L556.20 110.22L556.40 110.31L556.60 110.19L556.80 112.46L557.00 114.38L557.20 116.03L557.40 117.92L557.60 118.77L557.80 118.13L558.00 117.59L558.20 115.85L558.40 114.54L558.60 111.20L558.80 110.13L559.00 110.39L559.20 112.52L559.40 114.26L559.60 115.67L559.80 117.15L560.00 117.34L560.20 116.77L560.40 115.45L560.60 113.51L560.80 111.23L561.00 109.18L561.20 109.16L561.40 109.86L561.60 111.28L561.80 113.18L562.00 114.78L562.20 116.69L562.40 117.51L562.60 116.85L562.80 115.48L563.00 112.67L563.20 110.56L563.40 109.51L563.60 108.83L563.80 109.35L564.00 109.98L564.20 112.19L564.40 114.22L564.60 117.05L564.80 119.22L565.00 119.70L565.20 117.67L565.40 114.91L565.60 112.21L565.80 111.14L566.00 110.15L566.20 110.44L566.40 111.89L566.60 113.99L566.80 116.29L567.00 117.78L567.20 118.78L567.40 117.97L567.60 117.05L567.80 114.51L568.00 112.33L568.20 110.58L568.40 109.51L568.60 109.36L568.80 110.20L569.00 113.01L569.20 116.30L569.40 118.77L569.60 119.40L569.80 118.94L570.00 116.30L570.20 114.37L570.40 110.94L570.60 108.38L570.80 107.26L571.00 108.15L571.20 110.21L571.40 111.64L571.60 113.49L571.80 115.75L572.00 115.87L572.20 115.20L572.40 114.11L572.60 112.42L572.80 110.36L573.00 108.29L573.20 108.03L573.40 107.66L573.60 109.31L573.80 110.23L574.00 112.72L574.20 114.96L574.40 116.02L574.60 116.02L574.80 114.10L575.00 111.95L575.20 109.31L575.40 107.30L575.60 106.78L575.80 107.69L576.00 109.57L576.20 112.00L576.40 114.20L576.60 116.16L576.80 117.31L577.00 117.87L577.20 117.43L577.40 115.43L577.60 112.78L577.80 109.85L578.00 108.35L578.20 108.42L578.40 109.69L578.60 112.14L578.80 115.01L579.00 117.46L579.20 118.40L579.40 118.18L579.60 116.15L579.80 114.40L580.00 112.31L580.20 111.47L580.40 110.27L580.60 110.55L580.80 111.35L581.00 113.54L581.20 116.36L581.40 117.80L581.60 118.85L581.80 118.27L582.00 117.05L582.20 114.35L582.40 111.49L582.60 108.89L582.80 107.86L583.00 107.15L583.20 108.56L583.40 110.42L583.60 112.93L583.80 114.87L584.00 116.18L584.20 115.46L584.40 114.61L584.60 112.66L584.80 111.22L585.00 108.05L585.20 106.48L585.40 106.69L585.60 108.58L585.80 110.34L586.00 112.96L586.20 115.80L586.40 116.68L586.60 116.47L586.80 114.24L587.00 112.89L587.20 110.72L587.40 108.56L587.60 107.75L587.80 108.20L588.00 110.24L588.20 112.37L588.40 114.20L588.60 116.20L588.80 118.08L589.00 117.47L589.20 116.48L589.40 113.40L589.60 111.55L589.80 108.87L590.00 107.91L590.20 108.03L590.40 109.21L590.60 112.38L590.80 115.41L591.00 117.34L591.20 118.22L591.40 117.78L591.60 116.67L591.80 115.32L592.00 112.26L592.20 109.86L592.40 108.17L592.60 108.98L592.80 110.87L593.00 113.07L593.20 115.22L593.40 116.84L593.60 117.48L593.80 117.74L594.00 116.27L594.20 113.87L594.40 110.58L594.60 108.81L594.80 108.61L595.00 108.78L595.20 109.59L595.40 111.61L595.60 113.40L595.80 115.07L596.00 116.37L596.20 116.10L596.40 115.50L596.60 113.64L596.80 111.44L597.00 109.55L597.20 108.93L597.40 109.40L597.60 110.61L597.80 112.62L598.00 115.06L598.20 116.91L598.40 117.63L598.60 117.47L598.80 115.57L599.00 113.37L599.20 110.94L599.40 109.59L599.60 108.09L599.80 108.55L600.00 110.13L600.20 113.32L600.40 115.59L600.60 117.88L600.80 118.52L601.00 118.69L601.20 117.32L601.40 115.10L601.60 112.11L601.80 110.25L602.00 109.08L602.20 109.35L602.40 110.16L602.60 113.04L602.80 114.63L603.00 116.22L603.20 116.33L603.40 116.23L603.60 114.51L603.80 112.35L604.00 110.16L604.20 108.15L604.40 107.22L604.60 107.44L604.80 108.71L605.00 111.04L605.20 113.98L605.40 116.29L605.60 116.90L605.80 115.85L606.00 113.65L606.20 112.02L606.40 109.64L606.60 107.71L606.80 106.38L607.00 106.92L607.20 108.87L607.40 111.21L607.60 112.81L607.80 114.96L608.00 115.58L608.20 116.40L608.40 115.38L608.60 113.40L608.80 109.91L609.00 107.93L609.20 107.46L609.40 108.34L609.60 110.64L609.80 112.68L610.00 115.81L610.20 117.06L610.40 118.37L610.60 117.19L610.80 115.69L611.00 113.32L611.20 111.35L611.40 109.08L611.60 108.35L611.80 108.57L612.00 110.95L612.20 112.62L612.40 115.29L612.60 117.53L612.80 118.07L613.00 117.65L613.20 116.12L613.40 114.18L613.60 111.60L613.80 109.42L614.00 108.14L614.20 108.32L614.40 110.11L614.60 112.42L614.80 115.63L615.00 117.20L615.20 118.36L615.40 117.61L615.60 115.37L615.80 112.65L616.00 109.65L616.20 107.89L616.40 107.11L616.60 107.78L616.80 109.57L617.00 111.02L617.20 113.79L617.40 115.19L617.60 116.39L617.80 115.80L618.00 114.48L618.20 112.10L618.40 109.32L618.60 107.91L618.80 107.51L619.00 108.52L619.20 109.82L619.40 111.63L619.60 113.45L619.80 115.71L620.00 116.26L620.20 116.50L620.40 114.80L620.60 112.92L620.80 110.31L621.00 108.78L621.20 108.06L621.40 108.75L621.60 110.06L621.80 112.72L622.00 115.32L622.20 117.21L622.40 118.52L622.60 118.16L622.80 116.72L623.00 113.71L623.20 111.25L623.40 109.63L623.60 108.38L623.80 108.79L624.00 110.07L624.20 112.76L624.40 114.08L624.60 115.97L624.80 117.33L625.00 117.46L625.20 116.13L625.40 112.58L625.60 110.58L625.80 107.95L626.00 107.87L626.20 107.53L626.40 109.33L626.60 111.24L626.80 114.38L627.00 115.54L627.20 116.39L627.40 116.51L627.60 114.82L627.80 112.50L628.00 109.15L628.20 106.96L628.40 106.41L628.60 107.25L628.80 108.89L629.00 110.33L629.20 112.73L629.40 115.66L629.60 117.36L629.80 116.87L630.00 114.85L630.20 112.35L630.40 109.11L630.60 106.94L630.80 106.69L631.00 107.39L631.20 109.86L631.40 111.69L631.60 114.18L631.80 115.83L632.00 117.60L632.20 117.74L632.40 115.55L632.60 113.11L632.80 111.00L633.00 109.22L633.20 107.71L633.40 108.09L633.60 110.01L633.80 112.33L634.00 114.10L634.20 115.72L634.40 117.25L634.60 117.25L634.80 116.72L635.00 114.53L635.20 111.44L635.40 109.11L635.60 108.06L635.80 109.07L636.00 110.72L636.20 112.66L636.40 114.91L636.60 116.79L636.80 117.45L637.00 116.68L637.20 115.24L637.40 113.09L637.60 111.10L637.80 108.22L638.00 106.83L638.20 106.82L638.40 108.52L638.60 111.38L638.80 113.24L639.00 115.64L639.20 116.35L639.40 116.22L639.60 114.49L639.80 112.36L640.00 109.89L640.20 108.30L640.40 107.30L640.60 108.30L640.80 109.05L641.00 112.48L641.20 114.68L641.40 116.85L641.60 117.12L641.80 117.50L642.00 115.54L642.20 113.49L642.40 111.35L642.60 109.60L642.80 108.95L643.00 109.53L643.20 111.15L643.40 113.18L643.60 115.06L643.80 116.80L644.00 118.55L644.20 118.03L644.40 116.88L644.60 114.23L644.80 111.35L645.00 109.39L645.20 108.26L645.40 108.76L645.60 109.27L645.80 111.74L646.00 113.30L646.20 115.79L646.40 117.14L646.60 116.50L646.80 115.21L647.00 112.54L647.20 110.33L647.40 107.70L647.60 106.60L647.80 106.91L648.00 108.34L648.20 111.09L648.40 113.84L648.60 116.41L648.80 117.90L649.00 116.88L649.20 114.84L649.40 112.27L649.60 109.95L649.80 108.67L650.00 107.41L650.20 107.96L650.40 109.31L650.60 112.22L650.80 114.57L651.00 116.64L651.20 117.57L651.40 116.75L651.60 115.65L651.80 113.09L652.00 111.28L652.20 108.72L652.40 108.03L652.60 107.60L652.80 109.36L653.00 112.39L653.20 114.68L653.40 116.34L653.60 116.72L653.80 116.38L654.00 116.54L654.20 114.59L654.40 112.54L654.60 109.68L654.80 109.14L655.00 109.22L655.20 112.02L655.40 113.89L655.60 116.45L655.80 117.85L656.00 118.51L656.20 118.03L656.40 116.81L656.60 114.26L656.80 112.25L657.00 110.59L657.20 110.23L657.40 109.96L657.60 111.75L657.80 114.03L658.00 117.01L658.20 118.66L658.40 119.42L658.60 119.39L658.80 119.35L659.00 119.08L659.20 117.53L659.40 115.53L659.60 112.75L659.80 110.26L660.00 107.88L660.20 107.26L660.40 110.31L660.60 114.92L660.80 121.84L661.00 129.16L661.20 134.37L661.40 134.57L661.60 131.84L661.80 124.19L662.00 114.85L662.20 106.60L662.40 99.21L662.60 96.82L663.20 140.00L663.50 174.50L663.90 125.00L664.40 107.19L664.60 96.24L664.80 90.37L665.00 86.57L665.20 87.92L665.40 92.84L665.60 102.76L665.80 113.32L666.00 121.03L666.20 125.00L666.40 123.19L666.60 116.54L666.80 106.95L667.00 96.34L667.20 89.12L667.40 84.96L667.60 89.28L667.80 95.25L668.00 103.37L668.20 112.13L668.40 119.94L668.60 124.46L668.80 126.96L669.00 123.98L669.20 115.17L669.40 107.77L669.60 99.38L669.80 94.47L670.00 94.72L670.20 102.47L670.40 109.72L670.60 120.11L670.80 129.25L671.00 136.70L671.20 140.78L671.40 136.19L671.60 127.63L671.80 118.19L672.00 109.15L672.20 104.17L672.40 102.97L672.60 104.51L672.80 111.18L673.00 121.04L673.20 128.96L673.40 135.82L673.60 136.82L673.80 135.06L674.00 128.62L674.20 118.78L674.40 109.52L674.60 100.83L674.80 95.70L675.00 97.10L675.20 103.23L675.40 112.38L675.60 122.54L675.80 129.65L676.00 133.21L676.20 130.25L676.40 122.02L676.60 112.60L676.80 103.29L677.00 95.54L677.20 89.53L677.40 87.92L677.60 91.80L677.80 101.04L678.00 109.84L678.20 119.42L678.40 124.57L678.60 123.75L678.80 116.64L679.00 107.33L679.20 98.17L679.40 89.78L679.60 84.46L679.80 83.90L680.00 89.54L680.20 98.12L680.40 107.80L680.60 116.40L680.80 122.22L681.00 123.77L681.20 120.32L681.40 114.38L681.60 105.87L681.80 97.81L682.00 93.20L682.20 90.50L682.40 95.91L682.60 102.96L682.80 114.91L683.00 125.21L683.20 134.54L683.40 135.54L683.60 132.00L683.80 126.12L684.00 119.14L684.20 111.93L684.40 107.10L684.60 105.41L684.80 106.52L685.00 111.36L685.20 119.77L685.40 126.71L685.60 133.32L685.80 136.20L686.00 136.46L686.20 131.14L686.40 122.35L686.60 113.13L686.80 105.71L687.00 100.28L687.20 99.87L687.40 105.76L687.60 114.84L687.80 123.61L688.00 131.01L688.20 134.45L688.40 133.51L688.60 127.24L688.80 117.53L689.00 107.75L689.20 99.04L689.40 92.93L689.60 94.78L689.80 98.88L690.00 104.03L690.20 110.90L690.40 117.60L690.60 120.55L690.80 121.42L691.00 117.09L691.20 110.46L691.40 101.64L691.60 94.61L691.80 90.91L692.00 89.98L692.20 92.45L692.40 96.72L692.60 103.99L692.80 111.25L693.00 116.87L693.20 120.25L693.40 118.12L693.60 113.19L693.80 105.35L694.00 97.83L694.20 91.29L694.40 87.95L694.60 90.02L694.80 97.29L695.00 109.15L695.20 120.29L695.40 130.51L695.60 134.65L695.80 133.52L696.00 128.86L696.20 118.92L696.40 108.18L696.60 100.27L696.80 97.62L697.00 100.49L697.20 106.85L697.40 116.33L697.60 124.34L697.80 131.21L698.00 134.73L698.20 134.76L698.40 131.00L698.60 124.64L698.80 117.54L699.00 109.39L699.20 103.99L699.40 103.60L699.60 107.23L699.80 115.32L700.00 123.72L700.20 130.11L700.40 133.58L700.60 132.95L700.80 129.50L701.00 122.46L701.20 114.24L701.40 106.10L701.60 99.98L701.80 96.57L702.00 99.06L702.20 104.19L702.40 111.40L702.60 119.42L702.80 125.33L703.00 127.78L703.20 125.86L703.40 117.09L703.60 107.06L703.80 96.24L704.00 89.46L704.20 85.12L704.40 88.18L704.60 94.06L704.80 103.03L705.00 110.98L705.20 118.13L705.40 119.48L705.60 118.79L705.80 114.38L706.00 107.40L706.20 99.57L706.40 91.68L706.60 90.50L706.80 91.49L707.00 98.09L707.20 104.42L707.40 112.45L707.60 117.49L707.80 120.93L708.00 121.53L708.20 119.34L708.40 115.03L708.60 108.99L708.80 102.00L709.00 98.58L709.20 100.02L709.40 101.85L709.60 109.82L709.80 120.27L710.00 131.12L710.20 137.91L710.40 141.01L710.60 136.16L710.80 128.47L711.00 118.57L711.20 110.25L711.40 104.11L711.60 103.21L711.80 105.67L712.00 113.36L712.20 121.11L712.40 128.79L712.60 135.30L712.80 135.52L713.00 134.10L713.20 127.84L713.40 119.26L713.60 108.80L713.80 100.87L714.00 95.73L714.20 96.21L714.40 102.51L714.60 111.80L714.80 123.42L715.00 132.41L715.20 136.33L715.40 133.05L715.60 123.83L715.80 112.71L716.00 101.13L716.20 91.22L716.40 86.48L716.60 85.59L716.80 90.52L717.00 99.67L717.20 110.17L717.40 119.29L717.60 123.38L717.80 121.86L718.00 116.71L718.20 108.88L718.40 99.90L718.60 91.88L718.80 84.64L719.00 84.51L719.20 88.86L719.40 97.07L719.60 107.58L719.80 118.30L720.00 127.02L720.20 130.49L720.40 125.99L720.60 117.11L720.80 106.50L721.00 98.39L721.20 94.13L721.40 93.80L721.60 97.38L721.80 105.72L722.00 114.04L722.20 123.57L722.40 129.55L722.60 133.16L722.80 130.61L723.00 125.31L723.20 118.60L723.40 111.94L723.60 108.03L723.80 105.48L724.00 107.29L724.20 112.98L724.40 121.21L724.60 129.99L724.80 137.45L725.00 143.73L725.20 140.64L725.40 134.30L725.60 123.63L725.80 112.06L726.00 103.30L726.20 99.20L726.40 99.47L726.60 105.30L726.80 113.99L727.00 121.44L727.20 128.80L727.40 131.37L727.60 130.35L727.80 124.37L728.00 117.38L728.20 110.14L728.40 103.14L728.60 96.22L728.80 92.85L729.00 95.42L729.20 102.20L729.40 111.87L729.60 120.12L729.80 126.47L730.00 125.73L730.20 120.82L730.40 113.32L730.60 103.07L730.80 94.75L731.00 88.69L731.20 88.06L731.40 89.73L731.60 96.20L731.80 104.35L732.00 113.65L732.20 119.10L732.40 122.12L732.60 120.67L732.80 115.61L733.00 107.63L733.20 98.52L733.40 91.88L733.60 90.01L733.80 94.34L734.00 99.63L734.20 107.97L734.40 116.79L734.60 123.28L734.80 127.63L735.00 126.95L735.20 123.41L735.40 117.00L735.60 110.97L735.80 104.87L736.00 101.04L736.20 102.64L736.40 106.03L736.60 114.98L736.80 125.26L737.00 134.63L737.20 140.11L737.40 141.32L737.60 134.48L737.80 126.00L738.00 115.50L738.20 106.63L738.40 102.67L738.60 102.78L738.80 106.67L739.00 114.48L739.20 122.68L739.40 129.64L739.60 133.12L739.80 132.35L740.00 128.56L740.20 122.11L740.40 114.44L740.60 107.23L740.80 102.57L741.00 99.95L741.20 102.04L741.40 106.17L741.60 111.74L741.80 116.92L742.00 122.77L742.20 122.95L742.40 122.29L742.60 115.97L742.80 107.74L743.00 98.53L743.20 91.74L743.40 87.39L743.60 90.08L743.80 95.30L744.00 102.13L744.20 110.87L744.40 118.60L744.60 123.03L744.80 122.23L745.00 115.34L745.20 106.53L745.40 98.21L745.60 90.30L745.80 86.57L746.00 88.38L746.20 93.91L746.40 103.39L746.60 112.32L746.80 120.99L747.00 126.21L747.20 127.45L747.40 123.44L747.60 115.97L747.80 108.49L748.00 101.67L748.20 97.76L748.40 96.88L748.60 100.09L748.80 108.46L749.00 119.04L749.20 128.87L749.40 136.03L749.60 135.45L749.80 131.35L750.00 125.19L750.20 116.34L750.40 109.10L750.60 104.35L750.80 105.05L751.00 107.24L751.20 113.47L751.40 121.30L751.60 129.02L751.80 134.12L752.00 135.23L752.20 134.59L752.40 128.35L752.60 119.79L752.80 110.86L753.00 104.21L753.20 101.27L753.40 101.10L753.60 105.11L753.80 112.06L754.00 121.91L754.20 128.50L754.40 132.66L754.60 128.05L754.80 121.52L755.00 111.98L755.20 102.71L755.40 94.54L755.60 90.97L755.80 90.46L756.00 94.43L756.20 102.54L756.40 111.59L756.60 119.06L756.80 123.60L757.00 122.99L757.20 117.02L757.40 109.33L757.60 99.57L757.80 90.41L758.00 85.48L758.20 85.04L758.40 90.37L758.60 98.74L758.80 108.18L759.00 117.13L759.20 122.32L759.40 124.83L759.60 120.78L759.80 114.39L760.00 106.42L760.20 100.06L760.40 94.10L760.60 93.97L760.80 97.88L761.00 104.46L761.20 114.00L761.40 121.80L761.60 127.16L761.80 129.21L762.00 127.73L762.20 123.07L762.40 117.90L762.60 111.33L762.80 107.43L763.00 106.24L763.20 106.57L763.40 111.60L763.60 118.97L763.80 127.45L764.00 133.20L764.20 134.94L764.40 135.27L764.60 130.48L764.80 122.58L765.00 113.72L765.20 107.35L765.40 104.78L765.60 105.33L765.80 106.89L766.00 113.72L766.20 121.84L766.40 129.39L766.60 133.14L766.80 130.71L767.00 125.56L767.20 118.32L767.40 110.55L767.60 103.26L767.80 96.42L768.00 94.44L768.20 97.39L768.40 103.38L768.60 111.69L768.80 119.20L769.00 123.05L769.20 122.41L769.40 119.52L769.60 111.11L769.80 102.17L770.00 93.39L770.20 87.74L770.40 87.40L770.60 90.91L770.80 96.99L771.00 106.51L771.20 114.02L771.40 121.51L771.60 122.19L771.80 121.19L772.00 115.27L772.20 106.51L772.40 97.03L772.60 89.69L772.80 87.78L773.00 89.49L773.20 97.26L773.40 107.10L773.60 118.69L773.80 128.79L774.00 133.60L774.20 131.73L774.40 125.01L774.60 116.11L774.80 107.99L775.00 102.02L775.20 100.55L775.40 102.39L775.60 107.65L775.80 115.24L776.00 123.95L776.20 131.21L776.40 135.87L776.60 136.69L776.80 133.31L777.00 125.19L777.20 116.26L777.40 108.41L777.60 102.72L777.80 101.98L778.00 106.32L778.20 114.34L778.40 123.55L778.60 131.85L778.80 136.07L779.00 136.47L779.20 132.21L779.40 123.91L779.60 113.32L779.80 103.09L780.00 97.51L780.20 96.08L780.40 98.82L780.60 103.85L780.80 111.68L781.00 119.94L781.20 123.43L781.40 123.05L781.60 119.48L781.80 114.86L782.00 107.10L782.20 97.11L782.40 90.65L782.60 87.78L782.80 89.02L783.00 94.14L783.20 102.60L783.40 113.12L783.60 119.39L783.80 122.91L784.00 120.34L784.20 115.25L784.40 107.38L784.60 98.77L784.80 93.41L785.00 88.77L785.20 91.07L785.40 95.91L785.60 104.38L785.80 112.22L786.00 119.31L786.20 122.54L786.40 122.75L786.60 120.42L786.80 115.03L787.00 107.85L787.20 101.06L787.40 96.21L787.60 98.11L787.80 102.34L788.00 109.35L788.20 118.86L788.40 129.76L788.60 136.81L788.80 136.67L789.00 131.98L789.20 124.85L789.40 116.75L789.60 110.00L789.80 106.25L790.00 103.68L790.20 107.27L790.40 113.94L790.60 121.55L790.80 130.26L791.00 135.97L791.20 138.44L791.40 135.21L791.60 127.76L791.80 118.39L792.00 108.76L792.20 103.59L792.40 100.85L792.60 103.44L792.80 108.00L793.00 114.13L793.20 120.93L793.40 126.18L793.60 127.65L793.80 127.51L794.00 122.40L794.20 113.04L794.40 103.79L794.60 96.26L794.80 92.98L795.00 90.74L795.20 95.04L795.40 102.38L795.60 111.60L795.80 118.10L796.00 122.60L796.20 122.70L796.40 118.73L796.60 109.54L796.80 99.73L797.00 92.67L797.20 89.25L797.40 88.52L797.60 93.59L797.80 99.83L798.00 107.62L798.20 114.11L798.40 117.32L798.60 119.73L798.80 118.60L799.00 113.88L799.20 106.38L799.40 98.19L799.60 92.62L799.80 91.11L800.00 94.93L800.20 102.74L800.40 113.48L800.60 123.67L800.80 129.87L801.00 131.26L801.20 129.67L801.40 125.65L801.60 118.52L801.80 110.22L802.00 104.63L802.20 101.18L802.40 104.26L802.60 109.22L802.80 118.32L803.00 127.06L803.20 134.06L803.40 137.03L803.60 134.53L803.80 130.32L804.00 122.30L804.20 113.60L804.40 107.56L804.60 104.52L804.80 105.49L805.00 109.41L805.20 114.63L805.40 120.89L805.60 126.10L805.80 128.81L806.00 128.34L806.20 124.81L806.40 117.63L806.60 110.18L806.80 104.17L807.00 99.90L807.20 99.96L807.40 102.06L807.60 106.71L807.80 111.28L808.00 116.44L808.20 120.42L808.40 121.71L808.60 118.31L808.80 111.38L809.00 102.94L809.20 95.61L809.40 90.45L809.60 87.42L809.80 89.17L810.00 96.24L810.20 105.76L810.40 114.32L810.60 120.05L810.80 121.88L811.00 120.03L811.20 114.31L811.40 107.25L811.60 99.29L811.80 94.27L812.00 94.47L812.20 96.01L812.40 101.72L812.60 108.76L812.80 116.97L813.00 124.10L813.20 126.23L813.40 126.27L813.60 122.14L813.80 115.93L814.00 108.86L814.20 103.70L814.40 102.79L814.60 104.30L814.80 109.46L815.00 116.64L815.20 123.59L815.40 130.18L815.60 132.44L815.80 131.97L816.00 128.46L816.20 122.84L816.40 116.36L816.60 111.91L816.80 108.94L817.00 108.29L817.20 111.91L817.40 115.29L817.60 122.15L817.80 128.35L818.00 132.58L818.20 133.24L818.40 130.40L818.60 123.39L818.80 115.02L819.00 106.90L819.20 101.30L819.40 98.17L819.60 100.04L819.80 105.37L820.00 111.53L820.20 118.07L820.40 123.57L820.60 125.82L820.80 123.75L821.00 117.13L821.20 107.19L821.40 97.53L821.60 89.97L821.80 86.79L822.00 90.05L822.20 95.89L822.40 104.95L822.60 110.73L822.80 116.02L823.00 117.24L823.20 114.70L823.40 111.82L823.60 106.61L823.80 99.06L824.00 93.09L824.20 89.13L824.40 89.71L824.60 94.11L824.80 103.61L825.00 113.05L825.20 121.95L825.40 125.51L825.60 125.98L825.80 120.75L826.00 113.83L826.20 106.55L826.40 101.59L826.60 99.62L826.80 99.18L827.00 103.39L827.20 110.33L827.40 118.78L827.60 126.62L827.80 132.31L828.00 132.77L828.20 130.19L828.40 124.53L828.60 116.78L828.80 110.35L829.00 106.74L829.20 105.00L829.40 108.17L829.60 114.42L829.80 121.23L830.00 128.87L830.20 133.30L830.40 133.26L830.60 131.31L830.80 125.14L831.00 117.79L831.20 109.74L831.40 103.81L831.60 99.77L831.80 101.88L832.00 106.32L832.20 113.23L832.40 120.75L832.60 126.08L832.80 128.85L833.00 126.20L833.20 122.39L833.40 113.20L833.60 104.58L833.80 97.20L834.00 94.11L834.20 93.13L834.40 97.90L834.60 103.88L834.80 111.75L835.00 116.47L835.20 119.62L835.40 119.77L835.60 114.65L835.80 108.86L836.00 101.38L836.20 95.14L836.40 91.74L836.60 92.74L836.80 95.56L837.00 100.17L837.20 108.66L837.40 116.86L837.60 123.96L837.80 124.68L838.00 122.07L838.20 114.90L838.40 105.82L838.60 97.67L838.80 94.59L839.00 94.27L839.20 98.63L839.40 105.24L839.60 114.20L839.80 123.70L840.00 127.87L840.20 130.19L840.40 128.02L840.60 123.53L840.80 117.07L841.00 109.41L841.20 104.87L841.40 104.16L841.60 104.12L841.80 108.80L842.00 116.39L842.20 125.67L842.40 133.79L842.60 135.73L842.80 132.04L843.00 127.86L843.20 121.17L843.40 114.41L843.60 107.07L843.80 104.94L844.00 107.55L844.20 110.64L844.40 114.41L844.60 120.23L844.80 124.20L845.00 126.83L845.20 125.79L845.40 123.01L845.60 116.95L845.80 109.29L846.00 101.66L846.20 96.89L846.40 96.72L846.60 99.38L846.80 105.16L847.00 111.63L847.20 118.18L847.40 121.21L847.60 121.26L847.80 117.19L848.00 110.28L848.20 102.77L848.40 96.53L848.60 92.47L848.80 92.33L849.00 92.26L849.20 97.51L849.40 104.88"/>
<path stroke="#ff7f0e" d="M495.60 114.59L495.80 111.78L496.00 109.73L496.20 108.18L496.40 107.23L496.60 107.37L496.80 109.13L497.00 110.62L497.20 113.22L497.40 114.80L497.60 116.55L497.80 116.49L498.00 114.93L498.20 112.46L498.40 110.23L498.60 108.78L498.80 107.66L499.00 108.43L499.20 110.70L499.40 112.70L499.60 114.51L499.80 116.60L500.00 118.46L500.20 118.17L500.40 115.89L500.60 113.73L500.80 110.75L501.00 108.89L501.20 108.44L501.40 108.67L501.60 110.71L501.80 112.12L502.00 114.90L502.20 116.89L502.40 118.13L502.60 118.14L502.80 117.01L503.00 114.90L503.20 112.20L503.40 109.92L503.60 108.72L503.80 108.87L504.00 110.40L504.20 112.22L504.40 115.12L504.60 116.67L504.80 117.88L505.00 116.82L505.20 115.00L505.40 112.97L505.60 110.03L505.80 108.79L506.00 107.48L506.20 106.99L506.40 108.07L506.60 109.45L506.80 113.00L507.00 115.33L507.20 117.03L507.40 116.06L507.60 113.88L507.80 111.75L508.00 109.99L508.20 108.26L508.40 107.44L508.60 108.66L508.80 110.52L509.00 112.65L509.20 114.56L509.40 116.36L509.60 117.49L509.80 116.78L510.00 115.04L510.20 112.85L510.40 110.99L510.60 109.25L510.80 109.54L511.00 109.83L511.20 111.40L511.40 112.81L511.60 115.85L511.80 117.98L512.00 119.05L512.20 118.17L512.40 115.87L512.60 113.48L512.80 111.76L513.00 110.31L513.20 109.24L513.40 108.81L513.60 110.15L513.80 112.74L514.00 115.19L514.20 117.06L514.40 117.22L514.60 116.76L514.80 115.78L515.00 113.47L515.20 111.30L515.40 108.57L515.60 108.19L515.80 108.39L516.00 109.38L516.20 111.86L516.40 114.55L516.60 115.98L516.80 117.09L517.00 116.16L517.20 115.01L517.40 113.03L517.60 111.09L517.80 109.24L518.00 107.99L518.20 108.27L518.40 109.78L518.60 112.30L518.80 114.87L519.00 116.38L519.20 116.86L519.40 116.34L519.60 114.25L519.80 112.13L520.00 108.92L520.20 107.27L520.40 105.64L520.60 105.63L520.80 107.12L521.00 110.52L521.20 113.55L521.40 115.39L521.60 115.94L521.80 115.33L522.00 114.13L522.20 111.88L522.40 109.82L522.60 108.43L522.80 107.86L523.00 107.38L523.20 108.26L523.40 110.29L523.60 113.07L523.80 115.96L524.00 117.50L524.20 117.23L524.40 115.65L524.60 113.69L524.80 111.65L525.00 109.48L525.20 108.10L525.40 108.51L525.60 110.35L525.80 113.25L526.00 115.80L526.20 117.89L526.40 118.99L526.60 118.41L526.80 115.62L527.00 113.02L527.20 110.22L527.40 108.58L527.60 108.04L527.80 107.95L528.00 109.29L528.20 111.61L528.40 114.63L528.60 116.90L528.80 117.69L529.00 117.43L529.20 115.89L529.40 112.36L529.60 109.35L529.80 106.90L530.00 106.39L530.20 106.78L530.40 108.92L530.60 111.56L530.80 113.50L531.00 115.83L531.20 117.09L531.40 116.81L531.60 114.69L531.80 112.96L532.00 110.51L532.20 109.17L532.40 107.89L532.60 107.98L532.80 109.40L533.00 112.16L533.20 114.75L533.40 116.92L533.60 117.59L533.80 118.55L534.00 116.88L534.20 114.99L534.40 111.46L534.60 109.93L534.80 108.80L535.00 109.72L535.20 111.86L535.40 114.14L535.60 116.20L535.80 117.68L536.00 118.99L536.20 118.92L536.40 118.07L536.60 115.90L536.80 113.56L537.00 111.73L537.20 110.42L537.40 109.71L537.60 110.22L537.80 111.77L538.00 115.18L538.20 117.05L538.40 118.52L538.60 118.09L538.80 117.45L539.00 114.92L539.20 112.49L539.40 109.92L539.60 108.67L539.80 109.14L540.00 110.25L540.20 112.31L540.40 114.84L540.60 116.31L540.80 117.29L541.00 116.22L541.20 115.12L541.40 113.24L541.60 111.03L541.80 109.19L542.00 107.04L542.20 107.92L542.40 109.06L542.60 112.20L542.80 114.52L543.00 115.85L543.20 116.69L543.40 116.62L543.60 116.64L543.80 114.81L544.00 112.60L544.20 109.49L544.40 108.86L544.60 109.24L544.80 111.36L545.00 113.22L545.20 114.71L545.40 117.35L545.60 119.39L545.80 119.92L546.00 118.33L546.20 115.45L546.40 112.48L546.60 110.59L546.80 108.87L547.00 109.57L547.20 110.59L547.40 113.67L547.60 116.31L547.80 118.24L548.00 118.74L548.20 117.64L548.40 115.73L548.60 113.45L548.80 110.80L549.00 108.43L549.20 107.33L549.40 107.48L549.60 109.11L549.80 110.71L550.00 113.49L550.20 115.83L550.40 117.98L550.60 117.06L550.80 115.10L551.00 112.52L551.20 110.62L551.40 108.47L551.60 107.69L551.80 107.96L552.00 109.37L552.20 110.84L552.40 113.45L552.60 115.90L552.80 116.87L553.00 115.99L553.20 114.55L553.40 113.20L553.60 110.82L553.80 109.09L554.00 107.92L554.20 108.13L554.40 109.59L554.60 111.95L554.80 114.89L555.00 116.52L555.20 117.51L555.40 117.63L555.60 117.50L555.80 114.82L556.00 112.90L556.20 110.22L556.40 110.31L556.60 110.19L556.80 112.46L557.00 114.38L557.20 116.03L557.40 117.92L557.60 118.77L557.80 118.13L558.00 117.59L558.20 115.85L558.40 114.54L558.60 111.20L558.80 110.13L559.00 110.39L559.20 112.52L559.40 114.26L559.60 115.67L559.80 117.15L560.00 117.34L560.20 116.77L560.40 115.45L560.60 113.51L560.80 111.23L561.00 109.18L561.20 109.16L561.40 109.86L561.60 111.28L561.80 113.18L562.00 114.78L562.20 116.69L562.40 117.51L562.60 116.85L562.80 115.48L563.00 112.67L563.20 110.56L563.40 109.51L563.60 108.83L563.80 109.35L564.00 109.98L564.20 112.19L564.40 114.22L564.60 117.05L564.80 119.22L565.00 119.70L565.20 117.67L565.40 114.91L565.60 112.21L565.80 111.14L566.00 110.15L566.20 110.44L566.40 111.89L566.60 113.99L566.80 116.29L567.00 117.78L567.20 118.78L567.40 117.97L567.60 117.05L567.80 114.51L568.00 112.33L568.20 110.58L568.40 109.51L568.60 109.36L568.80 110.20L569.00 113.01L569.20 116.30L569.40 118.77L569.60 119.40L569.80 118.94L570.00 116.30L570.20 114.37L570.40 110.94L570.60 108.38L570.80 107.26L571.00 108.15L571.20 110.21L571.40 111.64L571.60 113.49L571.80 115.75L572.00 115.87L572.20 115.20L572.40 114.11L572.60 112.42L572.80 110.36L573.00 108.29L573.20 108.03L573.40 107.66L573.60 109.31L573.80 110.23L574.00 112.72L574.20 114.96L574.40 116.02L574.60 116.02L574.80 114.10L575.00 111.95L575.20 109.31L575.40 107.30L575.60 106.78L575.80 107.69L576.00 109.57L576.20 112.00L576.40 114.20L576.60 116.16L576.80 117.31L577.00 117.87L577.20 117.43L577.40 115.43L577.60 112.78L577.80 109.85L578.00 108.35L578.20 108.42L578.40 109.69L578.60 112.14L578.80 115.01L579.00 117.46L579.20 118.40L579.40 118.18L579.60 116.15L579.80 114.40L580.00 112.31L580.20 111.47L580.40 110.27L580.60 110.55L580.80 111.35L581.00 113.54L581.20 116.36L581.40 117.80L581.60 118.85L581.80 118.27L582.00 117.05L582.20 114.35L582.40 111.49L582.60 108.89L582.80 107.86L583.00 107.15L583.20 108.56L583.40 110.42L583.60 112.93L583.80 114.87L584.00 116.18L584.20 115.46L584.40 114.61L584.60 112.66L584.80 111.22L585.00 108.05L585.20 106.48L585.40 106.69L585.60 108.58L585.80 110.34L586.00 112.96L586.20 115.80L586.40 116.68L586.60 116.47L586.80 114.24L587.00 112.89L587.20 110.72L587.40 108.56L587.60 107.75L587.80 108.20L588.00 110.24L588.20 112.37L588.40 114.20L588.60 116.20L588.80 118.08L589.00 117.47L589.20 116.48L589.40 113.40L589.60 111.55L589.80 108.87L590.00 107.91L590.20 108.03L590.40 109.21L590.60 112.38L590.80 115.41L591.00 117.34L591.20 118.22L591.40 117.78L591.60 116.67L591.80 115.32L592.00 112.26L592.20 109.86L592.40 108.17L592.60 108.98L592.80 110.87L593.00 113.07L593.20 115.22L593.40 116.84L593.60 117.48L593.80 117.74L594.00 116.27L594.20 113.87L594.40 110.58L594.60 108.81L594.80 108.61L595.00 108.78L595.20 109.59L595.40 111.61L595.60 113.40L595.80 115.07L596.00 116.37L596.20 116.10L596.40 115.50L596.60 113.64L596.80 111.44L597.00 109.55L597.20 108.93L597.40 109.40L597.60 110.61L597.80 112.62L598.00 115.06L598.20 116.91L598.40 117.63L598.60 117.47L598.80 115.57L599.00 113.37L599.20 110.94L599.40 109.59L599.60 108.09L599.80 108.55L600.00 110.13L600.20 113.32L600.40 115.59L600.60 117.88L600.80 118.52L601.00 118.69L601.20 117.32L601.40 115.10L601.60 112.11L601.80 110.25L602.00 109.08L602.20 109.35L602.40 110.16L602.60 113.04L602.80 114.63L603.00 116.22L603.20 116.33L603.40 116.23L603.60 114.51L603.80 112.35L604.00 110.16L604.20 108.15L604.40 107.22L604.60 107.44L604.80 108.71L605.00 111.04L605.20 113.98L605.40 116.29L605.60 116.90L605.80 115.85L606.00 113.65L606.20 112.02L606.40 109.64L606.60 107.71L606.80 106.38L607.00 106.92L607.20 108.87L607.40 111.21L607.60 112.81L607.80 114.96L608.00 115.58L608.20 116.40L608.40 115.38L608.60 113.40L608.80 109.91L609.00 107.93L609.20 107.46L609.40 108.34L609.60 110.64L609.80 112.68L610.00 115.81L610.20 117.06L610.40 118.37L610.60 117.19L610.80 115.69L611.00 113.32L611.20 111.35L611.40 109.08L611.60 108.35L611.80 108.57L612.00 110.95L612.20 112.62L612.40 115.29L612.60 117.53L612.80 118.07L613.00 117.65L613.20 116.12L613.40 114.18L613.60 111.60L613.80 109.42L614.00 108.14L614.20 108.32L614.40 110.11L614.60 112.42L614.80 115.63L615.00 117.20L615.20 118.36L615.40 117.61L615.60 115.37L615.80 112.65L616.00 109.65L616.20 107.89L616.40 107.11L616.60 107.78L616.80 109.57L617.00 111.02L617.20 113.79L617.40 115.19L617.60 116.39L617.80 115.80L618.00 114.48L618.20 112.10L618.40 109.32L618.60 107.91L618.80 107.51L619.00 108.52L619.20 109.82L619.40 111.63L619.60 113.45L619.80 115.71L620.00 116.26L620.20 116.50L620.40 114.80L620.60 112.92L620.80 110.31L621.00 108.78L621.20 108.06L621.40 108.75L621.60 110.06L621.80 112.72L622.00 115.32L622.20 117.21L622.40 118.52L622.60 118.16L622.80 116.72L623.00 113.71L623.20 111.25L623.40 109.63L623.60 108.38L623.80 108.79L624.00 110.07L624.20 112.76L624.40 114.08L624.60 115.97L624.80 117.33L625.00 117.46L625.20 116.13L625.40 112.58L625.60 110.58L625.80 107.95L626.00 107.87L626.20 107.53L626.40 109.33L626.60 111.24L626.80 114.38L627.00 115.54L627.20 116.39L627.40 116.51L627.60 114.82L627.80 112.50L628.00 109.15L628.20 106.96L628.40 106.41L628.60 107.25L628.80 108.89L629.00 110.33L629.20 112.73L629.40 115.66L629.60 117.36L629.80 116.87L630.00 114.85L630.20 112.35L630.40 109.11L630.60 106.94L630.80 106.69L631.00 107.39L631.20 109.86L631.40 111.69L631.60 114.18L631.80 115.83L632.00 117.60L632.20 117.74L632.40 115.55L632.60 113.11L632.80 111.00L633.00 109.22L633.20 107.71L633.40 108.09L633.60 110.01L633.80 112.33L634.00 114.10L634.20 115.72L634.40 117.25L634.60 117.25L634.80 116.72L635.00 114.53L635.20 111.44L635.40 109.11L635.60 108.06L635.80 109.07L636.00 110.72L636.20 112.66L636.40 114.91L636.60 116.79L636.80 117.45L637.00 116.68L637.20 115.24L637.40 113.09L637.60 111.10L637.80 108.22L638.00 106.83L638.20 106.82L638.40 108.52L638.60 111.38L638.80 113.24L639.00 115.64L639.20 116.35L639.40 116.22L639.60 114.49L639.80 112.36L640.00 109.89L640.20 108.30L640.40 107.30L640.60 108.30L640.80 109.05L641.00 112.48L641.20 114.68L641.40 116.85L641.60 117.12L641.80 117.50L642.00 115.54L642.20 113.49L642.40 111.35L642.60 109.60L642.80 108.95L643.00 109.53L643.20 111.15L643.40 113.18L643.60 115.06L643.80 116.80L644.00 118.55L644.20 118.03L644.40 116.88L644.60 114.23L644.80 111.35L645.00 109.39L645.20 108.26L645.40 108.76L645.60 109.27L645.80 111.74L646.00 113.30L646.20 115.79L646.40 117.14L646.60 116.50L646.80 115.21L647.00 112.54L647.20 110.33L647.40 107.70L647.60 106.60L647.80 106.91L648.00 108.34L648.20 111.09L648.40 113.84L648.60 116.41L648.80 117.90L649.00 116.88L649.20 114.84L649.40 112.27L649.60 109.95L649.80 108.67L650.00 107.41L650.20 107.96L650.40 109.31L650.60 112.22L650.80 114.57L651.00 116.64L651.20 117.57L651.40 116.75L651.60 115.65L651.80 113.09L652.00 111.28L652.20 108.72L652.40 108.03L652.60 107.60L652.80 109.36L653.00 112.39L653.20 114.68L653.40 116.34L653.60 116.72L653.80 116.38L654.00 116.54L654.20 114.59L654.40 112.54L654.60 109.68L654.80 109.14L655.00 109.22L655.20 112.02L655.40 113.89L655.60 116.45L655.80 117.85L656.00 118.51L656.20 118.03L656.40 116.81L656.60 114.26L656.80 112.25L657.00 110.59L657.20 110.23L657.40 109.96L657.60 111.75L657.80 114.03L658.00 117.01L658.20 118.66L658.40 119.42L658.60 119.39L658.80 119.35L659.00 119.08L659.20 117.53L659.40 115.53L659.60 112.75L659.80 110.26L660.00 107.88L660.20 107.26L660.40 110.31L660.60 114.92L660.80 121.84L661.00 129.16L661.20 134.37L661.40 134.57L661.60 131.84L661.80 124.19L662.00 114.85L662.20 106.60L662.40 99.21L662.60 96.82L662.80 99.48L663.00 105.00L663.20 111.82L663.40 118.56L663.60 123.48L663.80 123.01L664.00 122.63L664.20 115.65L664.40 107.19L664.60 96.24L664.80 90.37L665.00 86.57L665.20 87.92L665.40 92.84L665.60 102.76L665.80 113.32L666.00 121.03L666.20 125.00L666.40 123.19L666.60 116.54L666.80 106.95L667.00 96.34L667.20 89.12L667.40 84.96L667.60 89.28L667.80 95.25L668.00 103.37L668.20 112.13L668.40 119.94L668.60 124.46L668.80 126.96L669.00 123.98L669.20 115.17L669.40 107.77L669.60 99.38L669.80 94.47L670.00 94.72L670.20 102.47L670.40 109.72L670.60 120.11L670.80 129.25L671.00 136.70L671.20 140.78L671.40 136.19L671.60 127.63L671.80 118.19L672.00 109.15L672.20 104.17L672.40 102.97L672.60 104.51L672.80 111.18L673.00 121.04L673.20 128.96L673.40 135.82L673.60 136.82L673.80 135.06L674.00 128.62L674.20 118.78L674.40 109.52L674.60 100.83L674.80 95.70L675.00 97.10L675.20 103.23L675.40 112.38L675.60 122.54L675.80 129.65L676.00 133.21L676.20 130.25L676.40 122.02L676.60 112.60L676.80 103.29L677.00 95.54L677.20 89.53L677.40 87.92L677.60 91.80L677.80 101.04L678.00 109.84L678.20 119.42L678.40 124.57L678.60 123.75L678.80 116.64L679.00 107.33L679.20 98.17L679.40 89.78L679.60 84.46L679.80 83.90L680.00 89.54L680.20 98.12L680.40 107.80L680.60 116.40L680.80 122.22L681.00 123.77L681.20 120.32L681.40 114.38L681.60 105.87L681.80 97.81L682.00 93.20L682.20 90.50L682.40 95.91L682.60 102.96L682.80 114.91L683.00 125.21L683.20 134.54L683.40 135.54L683.60 132.00L683.80 126.12L684.00 119.14L684.20 111.93L684.40 107.10L684.60 105.41L684.80 106.52L685.00 111.36L685.20 119.77L685.40 126.71L685.60 133.32L685.80 136.20L686.00 136.46L686.20 131.14L686.40 122.35L686.60 113.13L686.80 105.71L687.00 100.28L687.20 99.87L687.40 105.76L687.60 114.84L687.80 123.61L688.00 131.01L688.20 134.45L688.40 133.51L688.60 127.24L688.80 117.53L689.00 107.75L689.20 99.04L689.40 92.93L689.60 94.78L689.80 98.88L690.00 104.03L690.20 110.90L690.40 117.60L690.60 120.55L690.80 121.42L691.00 117.09L691.20 110.46L691.40 101.64L691.60 94.61L691.80 90.91L692.00 89.98L692.20 92.45L692.40 96.72L692.60 103.99L692.80 111.25L693.00 116.87L693.20 120.25L693.40 118.12L693.60 113.19L693.80 105.35L694.00 97.83L694.20 91.29L694.40 87.95L694.60 90.02L694.80 97.29L695.00 109.15L695.20 120.29L695.40 130.51L695.60 134.65L695.80 133.52L696.00 128.86L696.20 118.92L696.40 108.18L696.60 100.27L696.80 97.62L697.00 100.49L697.20 106.85L697.40 116.33L697.60 124.34L697.80 131.21L698.00 134.73L698.20 134.76L698.40 131.00L698.60 124.64L698.80 117.54L699.00 109.39L699.20 103.99L699.40 103.60L699.60 107.23L699.80 115.32L700.00 123.72L700.20 130.11L700.40 133.58L700.60 132.95L700.80 129.50L701.00 122.46L701.20 114.24L701.40 106.10L701.60 99.98L701.80 96.57L702.00 99.06L702.20 104.19L702.40 111.40L702.60 119.42L702.80 125.33L703.00 127.78L703.20 125.86L703.40 117.09L703.60 107.06L703.80 96.24L704.00 89.46L704.20 85.12L704.40 88.18L704.60 94.06L704.80 103.03L705.00 110.98L705.20 118.13L705.40 119.48L705.60 118.79L705.80 114.38L706.00 107.40L706.20 99.57L706.40 91.68L706.60 90.50L706.80 91.49L707.00 98.09L707.20 104.42L707.40 112.45L707.60 117.49L707.80 120.93L708.00 121.53L708.20 119.34L708.40 115.03L708.60 108.99L708.80 102.00L709.00 98.58L709.20 100.02L709.40 101.85L709.60 109.82L709.80 120.27L710.00 131.12L710.20 137.91L710.40 141.01L710.60 136.16L710.80 128.47L711.00 118.57L711.20 110.25L711.40 104.11L711.60 103.21L711.80 105.67L712.00 113.36L712.20 121.11L712.40 128.79L712.60 135.30L712.80 135.52L713.00 134.10L713.20 127.84L713.40 119.26L713.60 108.80L713.80 100.87L714.00 95.73L714.20 96.21L714.40 102.51L714.60 111.80L714.80 123.42L715.00 132.41L715.20 136.33L715.40 133.05L715.60 123.83L715.80 112.71L716.00 101.13L716.20 91.22L716.40 86.48L716.60 85.59L716.80 90.52L717.00 99.67L717.20 110.17L717.40 119.29L717.60 123.38L717.80 121.86L718.00 116.71L718.20 108.88L718.40 99.90L718.60 91.88L718.80 84.64L719.00 84.51L719.20 88.86L719.40 97.07L719.60 107.58L719.80 118.30L720.00 127.02L720.20 130.49L720.40 125.99L720.60 117.11L720.80 106.50L721.00 98.39L721.20 94.13L721.40 93.80L721.60 97.38L721.80 105.72L722.00 114.04L722.20 123.57L722.40 129.55L722.60 133.16L722.80 130.61L723.00 125.31L723.20 118.60L723.40 111.94L723.60 108.03L723.80 105.48L724.00 107.29L724.20 112.98L724.40 121.21L724.60 129.99L724.80 137.45L725.00 143.73L725.20 140.64L725.40 134.30L725.60 123.63L725.80 112.06L726.00 103.30L726.20 99.20L726.40 99.47L726.60 105.30L726.80 113.99L727.00 121.44L727.20 128.80L727.40 131.37L727.60 130.35L727.80 124.37L728.00 117.38L728.20 110.14L728.40 103.14L728.60 96.22L728.80 92.85L729.00 95.42L729.20 102.20L729.40 111.87L729.60 120.12L729.80 126.47L730.00 125.73L730.20 120.82L730.40 113.32L730.60 103.07L730.80 94.75L731.00 88.69L731.20 88.06L731.40 89.73L731.60 96.20L731.80 104.35L732.00 113.65L732.20 119.10L732.40 122.12L732.60 120.67L732.80 115.61L733.00 107.63L733.20 98.52L733.40 91.88L733.60 90.01L733.80 94.34L734.00 99.63L734.20 107.97L734.40 116.79L734.60 123.28L734.80 127.63L735.00 126.95L735.20 123.41L735.40 117.00L735.60 110.97L735.80 104.87L736.00 101.04L736.20 102.64L736.40 106.03L736.60 114.98L736.80 125.26L737.00 134.63L737.20 140.11L737.40 141.32L737.60 134.48L737.80 126.00L738.00 115.50L738.20 106.63L738.40 102.67L738.60 102.78L738.80 106.67L739.00 114.48L739.20 122.68L739.40 129.64L739.60 133.12L739.80 132.35L740.00 128.56L740.20 122.11L740.40 114.44L740.60 107.23L740.80 102.57L741.00 99.95L741.20 102.04L741.40 106.17L741.60 111.74L741.80 116.92L742.00 122.77L742.20 122.95L742.40 122.29L742.60 115.97L742.80 107.74L743.00 98.53L743.20 91.74L743.40 87.39L743.60 90.08L743.80 95.30L744.00 102.13L744.20 110.87L744.40 118.60L744.60 123.03L744.80 122.23L745.00 115.34L745.20 106.53L745.40 98.21L745.60 90.30L745.80 86.57L746.00 88.38L746.20 93.91L746.40 103.39L746.60 112.32L746.80 120.99L747.00 126.21L747.20 127.45L747.40 123.44L747.60 115.97L747.80 108.49L748.00 101.67L748.20 97.76L748.40 96.88L748.60 100.09L748.80 108.46L749.00 119.04L749.20 128.87L749.40 136.03L749.60 135.45L749.80 131.35L750.00 125.19L750.20 116.34L750.40 109.10L750.60 104.35L750.80 105.05L751.00 107.24L751.20 113.47L751.40 121.30L751.60 129.02L751.80 134.12L752.00 135.23L752.20 134.59L752.40 128.35L752.60 119.79L752.80 110.86L753.00 104.21L753.20 101.27L753.40 101.10L753.60 105.11L753.80 112.06L754.00 121.91L754.20 128.50L754.40 132.66L754.60 128.05L754.80 121.52L755.00 111.98L755.20 102.71L755.40 94.54L755.60 90.97L755.80 90.46L756.00 94.43L756.20 102.54L756.40 111.59L756.60 119.06L756.80 123.60L757.00 122.99L757.20 117.02L757.40 109.33L757.60 99.57L757.80 90.41L758.00 85.48L758.20 85.04L758.40 90.37L758.60 98.74L758.80 108.18L759.00 117.13L759.20 122.32L759.40 124.83L759.60 120.78L759.80 114.39L760.00 106.42L760.20 100.06L760.40 94.10L760.60 93.97L760.80 97.88L761.00 104.46L761.20 114.00L761.40 121.80L761.60 127.16L761.80 129.21L762.00 127.73L762.20 123.07L762.40 117.90L762.60 111.33L762.80 107.43L763.00 106.24L763.20 106.57L763.40 111.60L763.60 118.97L763.80 127.45L764.00 133.20L764.20 134.94L764.40 135.27L764.60 130.48L764.80 122.58L765.00 113.72L765.20 107.35L765.40 104.78L765.60 105.33L765.80 106.89L766.00 113.72L766.20 121.84L766.40 129.39L766.60 133.14L766.80 130.71L767.00 125.56L767.20 118.32L767.40 110.55L767.60 103.26L767.80 96.42L768.00 94.44L768.20 97.39L768.40 103.38L768.60 111.69L768.80 119.20L769.00 123.05L769.20 122.41L769.40 119.52L769.60 111.11L769.80 102.17L770.00 93.39L770.20 87.74L770.40 87.40L770.60 90.91L770.80 96.99L771.00 106.51L771.20 114.02L771.40 121.51L771.60 122.19L771.80 121.19L772.00 115.27L772.20 106.51L772.40 97.03L772.60 89.69L772.80 87.78L773.00 89.49L773.20 97.26L773.40 107.10L773.60 118.69L773.80 128.79L774.00 133.60L774.20 131.73L774.40 125.01L774.60 116.11L774.80 107.99L775.00 102.02L775.20 100.55L775.40 102.39L775.60 107.65L775.80 115.24L776.00 123.95L776.20 131.21L776.40 135.87L776.60 136.69L776.80 133.31L777.00 125.19L777.20 116.26L777.40 108.41L777.60 102.72L777.80 101.98L778.00 106.32L778.20 114.34L778.40 123.55L778.60 131.85L778.80 136.07L779.00 136.47L779.20 132.21L779.40 123.91L779.60 113.32L779.80 103.09L780.00 97.51L780.20 96.08L780.40 98.82L780.60 103.85L780.80 111.68L781.00 119.94L781.20 123.43L781.40 123.05L781.60 119.48L781.80 114.86L782.00 107.10L782.20 97.11L782.40 90.65L782.60 87.78L782.80 89.02L783.00 94.14L783.20 102.60L783.40 113.12L783.60 119.39L783.80 122.91L784.00 120.34L784.20 115.25L784.40 107.38L784.60 98.77L784.80 93.41L785.00 88.77L785.20 91.07L785.40 95.91L785.60 104.38L785.80 112.22L786.00 119.31L786.20 122.54L786.40 122.75L786.60 120.42L786.80 115.03L787.00 107.85L787.20 101.06L787.40 96.21L787.60 98.11L787.80 102.34L788.00 109.35L788.20 118.86L788.40 129.76L788.60 136.81L788.80 136.67L789.00 131.98L789.20 124.85L789.40 116.75L789.60 110.00L789.80 106.25L790.00 103.68L790.20 107.27L790.40 113.94L790.60 121.55L790.80 130.26L791.00 135.97L791.20 138.44L791.40 135.21L791.60 127.76L791.80 118.39L792.00 108.76L792.20 103.59L792.40 100.85L792.60 103.44L792.80 108.00L793.00 114.13L793.20 120.93L793.40 126.18L793.60 127.65L793.80 127.51L794.00 122.40L794.20 113.04L794.40 103.79L794.60 96.26L794.80 92.98L795.00 90.74L795.20 95.04L795.40 102.38L795.60 111.60L795.80 118.10L796.00 122.60L796.20 122.70L796.40 118.73L796.60 109.54L796.80 99.73L797.00 92.67L797.20 89.25L797.40 88.52L797.60 93.59L797.80 99.83L798.00 107.62L798.20 114.11L798.40 117.32L798.60 119.73L798.80 118.60L799.00 113.88L799.20 106.38L799.40 98.19L799.60 92.62L799.80 91.11L800.00 94.93L800.20 102.74L800.40 113.48L800.60 123.67L800.80 129.87L801.00 131.26L801.20 129.67L801.40 125.65L801.60 118.52L801.80 110.22L802.00 104.63L802.20 101.18L802.40 104.26L802.60 109.22L802.80 118.32L803.00 127.06L803.20 134.06L803.40 137.03L803.60 134.53L803.80 130.32L804.00 122.30L804.20 113.60L804.40 107.56L804.60 104.52L804.80 105.49L805.00 109.41L805.20 114.63L805.40 120.89L805.60 126.10L805.80 128.81L806.00 128.34L806.20 124.81L806.40 117.63L806.60 110.18L806.80 104.17L807.00 99.90L807.20 99.96L807.40 102.06L807.60 106.71L807.80 111.28L808.00 116.44L808.20 120.42L808.40 121.71L808.60 118.31L808.80 111.38L809.00 102.94L809.20 95.61L809.40 90.45L809.60 87.42L809.80 89.17L810.00 96.24L810.20 105.76L810.40 114.32L810.60 120.05L810.80 121.88L811.00 120.03L811.20 114.31L811.40 107.25L811.60 99.29L811.80 94.27L812.00 94.47L812.20 96.01L812.40 101.72L812.60 108.76L812.80 116.97L813.00 124.10L813.20 126.23L813.40 126.27L813.60 122.14L813.80 115.93L814.00 108.86L814.20 103.70L814.40 102.79L814.60 104.30L814.80 109.46L815.00 116.64L815.20 123.59L815.40 130.18L815.60 132.44L815.80 131.97L816.00 128.46L816.20 122.84L816.40 116.36L816.60 111.91L816.80 108.94L817.00 108.29L817.20 111.91L817.40 115.29L817.60 122.15L817.80 128.35L818.00 132.58L818.20 133.24L818.40 130.40L818.60 123.39L818.80 115.02L819.00 106.90L819.20 101.30L819.40 98.17L819.60 100.04L819.80 105.37L820.00 111.53L820.20 118.07L820.40 123.57L820.60 125.82L820.80 123.75L821.00 117.13L821.20 107.19L821.40 97.53L821.60 89.97L821.80 86.79L822.00 90.05L822.20 95.89L822.40 104.95L822.60 110.73L822.80 116.02L823.00 117.24L823.20 114.70L823.40 111.82L823.60 106.61L823.80 99.06L824.00 93.09L824.20 89.13L824.40 89.71L824.60 94.11L824.80 103.61L825.00 113.05L825.20 121.95L825.40 125.51L825.60 125.98L825.80 120.75L826.00 113.83L826.20 106.55L826.40 101.59L826.60 99.62L826.80 99.18L827.00 103.39L827.20 110.33L827.40 118.78L827.60 126.62L827.80 132.31L828.00 132.77L828.20 130.19L828.40 124.53L828.60 116.78L828.80 110.35L829.00 106.74L829.20 105.00L829.40 108.17L829.60 114.42L829.80 121.23L830.00 128.87L830.20 133.30L830.40 133.26L830.60 131.31L830.80 125.14L831.00 117.79L831.20 109.74L831.40 103.81L831.60 99.77L831.80 101.88L832.00 106.32L832.20 113.23L832.40 120.75L832.60 126.08L832.80 128.85L833.00 126.20L833.20 122.39L833.40 113.20L833.60 104.58L833.80 97.20L834.00 94.11L834.20 93.13L834.40 97.90L834.60 103.88L834.80 111.75L835.00 116.47L835.20 119.62L835.40 119.77L835.60 114.65L835.80 108.86L836.00 101.38L836.20 95.14L836.40 91.74L836.60 92.74L836.80 95.56L837.00 100.17L837.20 108.66L837.40 116.86L837.60 123.96L837.80 124.68L838.00 122.07L838.20 114.90L838.40 105.82L838.60 97.67L838.80 94.59L839.00 94.27L839.20 98.63L839.40 105.24L839.60 114.20L839.80 123.70L840.00 127.87L840.20 130.19L840.40 128.02L840.60 123.53L840.80 117.07L841.00 109.41L841.20 104.87L841.40 104.16L841.60 104.12L841.80 108.80L842.00 116.39L842.20 125.67L842.40 133.79L842.60 135.73L842.80 132.04L843.00 127.86L843.20 121.17L843.40 114.41L843.60 107.07L843.80 104.94L844.00 107.55L844.20 110.64L844.40 114.41L844.60 120.23L844.80 124.20L845.00 126.83L845.20 125.79L845.40 123.01L845.60 116.95L845.80 109.29L846.00 101.66L846.20 96.89L846.40 96.72L846.60 99.38L846.80 105.16L847.00 111.63L847.20 118.18L847.40 121.21L847.60 121.26L847.80 117.19L848.00 110.28L848.20 102.77L848.40 96.53L848.60 92.47L848.80 92.33L849.00 92.26L849.20 97.51L849.40 104.88"/>
</g>
<g clip-path="url(#c2)" fill="none" stroke-width="0.85" stroke-linejoin="round">
<path stroke="#1f77b4" d="M72.80 367.09L73.17 368.72L73.54 367.43L73.91 365.30L74.29 363.16L74.66 361.88L75.06 366.23L75.45 370.59L75.85 367.61L76.24 363.05L76.64 360.06L77.01 361.65L77.38 364.29L77.75 366.93L78.12 368.52L78.49 367.37L78.87 365.44L79.24 363.52L79.61 362.36L80.00 366.72L80.40 371.08L80.80 367.96L81.19 363.19L81.59 360.08L81.96 361.57L82.33 364.05L82.70 366.53L83.07 368.02L83.44 366.92L83.81 365.09L84.19 363.26L84.56 362.16L84.96 366.59L85.35 371.02L85.75 367.94L86.14 363.24L86.54 360.17L86.91 361.60L87.28 363.98L87.65 366.37L88.02 367.80L88.39 366.90L88.77 365.39L89.14 363.89L89.51 362.99L89.91 366.97L90.30 370.96L90.70 367.99L91.09 363.45L91.49 360.48L91.86 361.95L92.23 364.38L92.60 366.81L92.97 368.28L93.34 367.17L93.72 365.34L94.09 363.50L94.46 362.39L94.86 366.44L95.25 370.50L95.65 367.78L96.04 363.63L96.44 360.91L96.81 362.31L97.18 364.63L97.55 366.95L97.92 368.34L98.29 367.35L98.67 365.71L99.04 364.06L99.41 363.07L99.81 366.85L100.20 370.63L100.60 367.63L100.99 363.05L101.39 360.06L101.76 361.53L102.13 363.97L102.50 366.41L102.87 367.87L103.24 366.84L103.62 365.12L103.99 363.40L104.36 362.36L104.76 366.71L105.15 371.07L105.55 367.80L105.94 362.81L106.34 359.55L106.71 361.28L107.08 364.14L107.45 367.01L107.82 368.74L108.19 367.59L108.57 365.68L108.94 363.77L109.31 362.62L109.71 366.57L110.10 370.52L110.50 367.49L110.89 362.85L111.29 359.82L111.66 361.40L112.03 364.04L112.40 366.67L112.77 368.26L113.14 367.17L113.52 365.37L113.89 363.57L114.26 362.48L114.66 366.57L115.05 370.66L115.45 367.55L115.84 362.81L116.24 359.70L116.61 361.32L116.98 364.00L117.35 366.69L117.72 368.30L118.09 367.14L118.47 365.22L118.84 363.29L119.21 362.13L119.61 366.29L120.00 370.45L120.40 367.49L120.79 362.95L121.19 359.98L121.56 361.62L121.93 364.33L122.30 367.04L122.67 368.68L123.04 367.41L123.42 365.31L123.79 363.21L124.16 361.95L124.56 366.38L124.95 370.80L125.35 367.67L125.74 362.89L126.14 359.77L126.51 361.33L126.88 363.93L127.25 366.53L127.62 368.09L127.99 367.10L128.37 365.45L128.74 363.80L129.11 362.81L129.51 366.73L129.90 370.66L130.30 367.79L130.69 363.41L131.09 360.54L131.46 361.97L131.83 364.35L132.20 366.72L132.57 368.15L132.94 367.12L133.32 365.40L133.69 363.68L134.06 362.64L134.46 366.69L134.85 370.74L135.25 367.62L135.64 362.85L136.04 359.73L136.41 361.39L136.78 364.16L137.15 366.92L137.52 368.59L137.89 367.43L138.27 365.51L138.64 363.60L139.01 362.44L139.41 366.70L139.80 370.96L140.20 367.85L140.59 363.09L140.99 359.98L141.36 361.50L141.73 364.02L142.10 366.54L142.47 368.06L142.84 367.01L143.22 365.26L143.59 363.51L143.96 362.46L144.36 366.64L144.75 370.81L145.15 367.85L145.54 363.31L145.94 360.35L146.31 361.80L146.68 364.23L147.05 366.65L147.42 368.11L147.79 367.06L148.16 365.30L148.54 363.54L148.91 362.49L149.31 366.41L149.70 370.34L150.10 367.47L150.49 363.10L150.89 360.23L151.26 361.70L151.63 364.15L152.00 366.59L152.37 368.06L152.74 366.89L153.11 364.95L153.49 363.02L153.86 361.85L154.25 366.32L154.65 370.78L155.05 367.84L155.44 363.34L155.84 360.40L156.21 361.81L156.58 364.16L156.95 366.51L157.32 367.92L157.69 366.83L158.06 365.01L158.44 363.20L158.81 362.11L159.20 366.35L159.60 370.60L160.00 367.48L160.39 362.71L160.79 359.59L161.16 361.27L161.53 364.06L161.90 366.84L162.27 368.52L162.64 367.33L163.01 365.36L163.39 363.39L163.76 362.21L164.15 366.41L164.55 370.61L164.95 367.66L165.34 363.16L165.74 360.21L166.11 361.70L166.48 364.19L166.85 366.67L167.22 368.16L167.59 367.13L167.96 365.41L168.34 363.69L168.71 362.66L169.10 366.60L169.50 370.54L169.90 367.43L170.29 362.67L170.69 359.56L171.06 361.12L171.43 363.69L171.80 366.27L172.17 367.82L172.54 366.95L172.91 365.50L173.29 364.04L173.66 363.17L174.05 366.94L174.45 370.71L174.85 367.70L175.24 363.10L175.64 360.09L176.01 361.65L176.38 364.24L176.75 366.83L177.12 368.39L177.49 367.29L177.86 365.47L178.24 363.65L178.61 362.56L179.00 366.69L179.40 370.81L179.80 367.94L180.19 363.56L180.59 360.69L180.96 362.07L181.33 364.38L181.70 366.69L182.07 368.07L182.44 366.92L182.81 365.01L183.19 363.09L183.56 361.94L183.95 366.23L184.35 370.53L184.75 367.41L185.14 362.64L185.54 359.52L185.91 361.23L186.28 364.08L186.65 366.92L187.02 368.64L187.39 367.54L187.76 365.72L188.14 363.89L188.51 362.80L188.90 366.67L189.30 370.54L189.70 367.41L190.09 362.63L190.49 359.50L190.86 361.15L191.23 363.89L191.60 366.64L191.97 368.29L192.34 367.29L192.71 365.64L193.09 363.99L193.46 363.00L193.85 366.52L194.25 370.04L194.65 367.25L195.04 362.98L195.44 360.19L195.81 361.67L196.18 364.13L196.55 366.58L196.92 368.06L197.29 367.09L197.66 365.47L198.04 363.85L198.41 362.87L198.80 366.69L199.20 370.51L199.60 367.50L199.99 362.90L200.39 359.90L200.76 361.41L201.13 363.91L201.50 366.42L201.87 367.93L202.24 366.84L202.61 365.04L202.99 363.23L203.36 362.15L203.75 366.66L204.15 371.17L204.55 368.09L204.94 363.38L205.34 360.30L205.71 361.79L206.08 364.28L206.45 366.77L206.82 368.27L207.19 367.13L207.56 365.23L207.94 363.33L208.31 362.19L208.70 366.24L209.10 370.29L209.50 367.33L209.89 362.81L210.29 359.86L210.66 361.46L211.03 364.12L211.40 366.79L211.77 368.39L212.14 367.28L212.51 365.43L212.89 363.58L213.26 362.47L213.65 366.62L214.05 370.77L214.45 367.61L214.84 362.76L215.24 359.60L215.61 361.25L215.98 363.99L216.35 366.73L216.72 368.38L217.09 367.27L217.46 365.43L217.84 363.59L218.21 362.49L218.60 366.82L219.00 371.15L219.40 368.18L219.79 363.64L220.19 360.67L220.56 362.12L220.93 364.51L221.30 366.91L221.67 368.36L222.04 367.20L222.41 365.29L222.79 363.38L223.16 362.22L223.55 366.50L223.95 370.78L224.35 367.67L224.74 362.90L225.14 359.78L225.51 361.36L225.88 363.97L226.25 366.59L226.62 368.17L226.99 367.10L227.36 365.32L227.74 363.55L228.11 362.48L228.50 366.50L228.90 370.52L229.30 367.60L229.69 363.14L230.09 360.22L230.46 361.75L230.83 364.29L231.20 366.84L231.57 368.37L231.94 367.28L232.31 365.48L232.69 363.68L233.06 362.59L233.45 366.67L233.85 370.75L234.25 367.63L234.64 362.86L235.04 359.74L235.41 361.31L235.78 363.92L236.15 366.53L236.52 368.10L236.89 367.03L237.26 365.26L237.64 363.48L238.01 362.41L238.32 361.29L238.63 359.52L238.94 357.25L239.25 354.71L239.57 352.17L239.88 349.90L240.19 348.12L240.50 347.00L240.83 367.63L241.17 399.18L241.50 419.81L241.84 410.01L242.18 394.16L242.53 374.14L242.87 352.62L243.21 332.59L243.55 316.74L243.89 306.94L244.24 316.93L244.58 333.07L244.92 353.48L245.26 375.40L245.60 395.81L245.94 411.95L246.29 421.94L246.63 411.82L246.97 395.46L247.31 374.79L247.65 352.57L248.00 331.90L248.34 315.54L248.68 305.42L249.02 315.27L249.36 331.18L249.71 351.30L250.05 372.92L250.39 393.03L250.73 408.95L251.07 418.80L251.41 408.90L251.76 392.89L252.10 372.67L252.44 350.94L252.78 330.71L253.12 314.71L253.47 304.81L253.81 313.98L254.15 328.80L254.49 347.53L254.83 367.65L255.18 386.38L255.52 401.20L255.86 410.37L256.20 400.89L256.54 385.58L256.88 366.22L257.23 345.41L257.57 326.05L257.91 310.73L258.25 301.26L258.59 310.36L258.94 325.08L259.28 343.69L259.62 363.68L259.96 382.28L260.30 397.00L260.65 406.11L260.99 396.82L261.33 381.80L261.67 362.82L262.01 342.42L262.35 323.44L262.70 308.42L263.04 299.13L263.38 308.42L263.72 323.44L264.06 342.42L264.41 362.82L264.75 381.80L265.09 396.82L265.43 406.11L265.77 396.43L266.12 380.78L266.46 361.01L266.80 339.76L267.14 319.99L267.48 304.34L267.82 294.66L268.17 304.98L268.51 321.67L268.85 342.76L269.19 365.42L269.53 386.51L269.88 403.19L270.22 413.52L270.56 403.31L270.90 386.81L271.24 365.95L271.59 343.54L271.93 322.69L272.27 306.19L272.61 295.98L272.95 306.46L273.29 323.40L273.64 344.82L273.98 367.83L274.32 389.24L274.66 406.18L275.00 416.66L275.35 406.58L275.69 390.28L276.03 369.67L276.37 347.54L276.71 326.93L277.06 310.63L277.40 300.55L277.74 310.91L278.08 327.65L278.42 348.81L278.76 371.55L279.11 392.71L279.45 409.45L279.79 419.81L280.13 409.69L280.47 393.33L280.82 372.66L281.16 350.44L281.50 329.77L281.84 313.41L282.18 303.29L282.53 313.78L282.87 330.74L283.21 352.17L283.55 375.19L283.89 396.63L284.23 413.58L284.58 424.07L284.92 414.32L285.26 398.56L285.60 378.64L285.94 357.24L286.29 337.32L286.63 321.56L286.97 311.81L287.31 322.16L287.65 338.89L288.00 360.04L288.34 382.75L288.68 403.90L289.02 420.63L289.36 430.98L289.70 421.08L290.05 405.10L290.39 384.89L290.73 363.18L291.07 342.97L291.41 326.98L291.76 317.09L292.10 327.12L292.44 343.32L292.78 363.79L293.12 385.80L293.47 406.27L293.81 422.47L294.15 432.50L294.49 422.82L294.83 407.17L295.17 387.40L295.52 366.15L295.86 346.38L296.20 330.73L296.54 321.05L296.88 330.97L297.23 347.00L297.57 367.26L297.91 389.03L298.25 409.29L298.59 425.32L298.94 435.24L299.28 425.98L299.62 411.02L299.96 392.11L300.30 371.79L300.64 352.88L300.99 337.92L301.33 328.66L301.67 338.10L302.01 353.37L302.35 372.65L302.70 393.38L303.04 412.67L303.38 427.93L303.72 437.37L304.06 427.93L304.41 412.67L304.75 393.38L305.09 372.65L305.43 353.37L305.77 338.10L306.11 328.66L306.46 337.92L306.80 352.88L307.14 371.79L307.48 392.11L307.82 411.02L308.17 425.98L308.51 435.24L308.85 425.47L309.19 409.68L309.53 389.73L309.88 368.29L310.22 348.33L310.56 332.54L310.90 322.78L311.24 332.54L311.58 348.33L311.93 368.29L312.27 389.73L312.61 409.68L312.95 425.47L313.29 435.24L313.64 425.29L313.98 409.20L314.32 388.87L314.66 367.02L315.00 346.68L315.35 330.60L315.69 320.64L316.03 330.26L316.37 345.81L316.71 365.46L317.05 386.57L317.40 406.22L317.74 421.76L318.08 431.38L318.42 421.12L318.76 404.53L319.11 383.57L319.45 361.05L319.79 340.08L320.13 323.50L320.47 313.24L320.82 322.89L321.16 338.49L321.50 358.21L321.84 379.40L322.18 399.12L322.52 414.72L322.87 424.38L323.21 414.36L323.55 398.18L323.89 377.72L324.23 355.73L324.58 335.28L324.92 319.09L325.26 309.07L325.60 318.72L325.94 334.31L326.29 354.01L326.63 375.18L326.97 394.88L327.31 410.47L327.65 420.11L327.99 410.23L328.34 394.26L328.68 374.07L329.02 352.38L329.36 332.19L329.70 316.22L330.05 306.33L330.39 315.51L330.73 330.34L331.07 349.09L331.41 369.24L331.76 387.98L332.10 402.82L332.44 411.99L332.78 402.50L333.12 387.15L333.46 367.76L333.81 346.92L334.15 327.52L334.49 312.17L334.83 302.68L335.17 311.57L335.52 325.95L335.86 344.12L336.20 363.65L336.54 381.82L336.88 396.20L337.23 405.09L337.57 396.20L337.91 381.82L338.25 363.65L338.59 344.12L338.93 325.95L339.28 311.57L339.62 302.68L339.96 311.20L340.30 324.98L340.64 342.40L340.99 361.11L341.33 378.53L341.67 392.30L342.01 400.83L342.35 392.30L342.70 378.53L343.04 361.11L343.38 342.40L343.72 324.98L344.06 311.20L344.40 302.68L344.75 311.02L345.09 324.50L345.43 341.54L345.77 359.84L346.11 376.88L346.46 390.36L346.80 398.70L347.14 390.27L347.48 376.65L347.82 359.43L348.17 340.93L348.51 323.71L348.85 310.09L349.19 301.66L349.53 310.46L349.87 324.68L350.22 342.66L350.56 361.97L350.90 379.94L351.24 394.16L351.58 402.96L351.93 394.52L352.27 380.89L352.61 363.65L352.95 345.13L353.29 327.90L353.64 314.26L353.98 305.83L354.32 314.76L354.66 329.19L355.00 347.43L355.34 367.04L355.69 385.28L356.03 399.71L356.37 408.64L356.71 399.90L357.05 385.76L357.40 367.90L357.74 348.70L358.08 330.84L358.42 316.70L358.76 307.96L359.11 316.94L359.45 331.46L359.79 349.81L360.13 369.53L360.47 387.88L360.81 402.40L361.16 411.39L361.50 402.74L361.84 388.76L362.18 371.09L362.52 352.11L362.87 334.44L363.21 320.46L363.55 311.81L363.89 321.07L364.23 336.03L364.58 354.94L364.92 375.26L365.26 394.17L365.60 409.13L365.94 418.39L366.28 409.68L366.63 395.60L366.97 377.81L367.31 358.69L367.65 340.89L367.99 326.82L368.34 318.11L368.68 327.18L369.02 341.84L369.36 360.37L369.70 380.29L370.05 398.82L370.39 413.48L370.73 422.55L371.07 413.82L371.41 399.72L371.75 381.89L372.10 362.73L372.44 344.90L372.78 330.79L373.12 322.07L373.46 330.93L373.81 345.25L374.15 363.35L374.49 382.79L374.83 400.89L375.17 415.21L375.52 424.07L375.86 415.73L376.20 402.25L376.54 385.22L376.88 366.91L377.22 349.87L377.57 336.39L377.91 328.05L378.25 336.82L378.59 350.98L378.93 368.88L379.28 388.12L379.62 406.02L379.96 420.18L380.30 428.94L380.64 420.68L380.99 407.31L381.33 390.42L381.67 372.27L382.01 355.37L382.35 342.01L382.69 333.74L383.04 341.95L383.38 355.21L383.72 371.98L384.06 389.99L384.40 406.76L384.75 420.03L385.09 428.23L385.43 419.90L385.77 406.42L386.11 389.38L386.46 371.07L386.80 354.03L387.14 340.55L387.48 332.22L387.82 340.38L388.16 353.57L388.51 370.25L388.85 388.17L389.19 404.85L389.53 418.04L389.87 426.20L390.22 417.73L390.56 404.04L390.90 386.73L391.24 368.14L391.58 350.83L391.93 337.13L392.27 328.66L392.61 337.13L392.95 350.83L393.29 368.14L393.63 386.73L393.98 404.04L394.32 417.73L394.66 426.20L395.00 417.26L395.34 402.79L395.69 384.51L396.03 364.87L396.37 346.59L396.71 332.13L397.05 323.18L397.40 331.66L397.74 345.37L398.08 362.70L398.42 381.31L398.76 398.64L399.10 412.34L399.45 420.82L399.79 411.75L400.13 397.09L400.47 378.56L400.81 358.65L401.16 340.12L401.50 325.45L401.84 316.38L402.18 325.13L402.52 339.26L402.87 357.13L403.21 376.32L403.55 394.19L403.89 408.32L404.23 417.07L404.57 408.10L404.92 393.61L405.26 375.30L405.60 355.62L405.94 337.30L406.28 322.81L406.63 313.84L406.97 322.50L407.31 336.49L407.65 354.18L407.99 373.18L408.34 390.87L408.68 404.86L409.02 413.52L409.36 404.48L409.70 389.88L410.04 371.42L410.39 351.58L410.73 333.12L411.07 318.52L411.41 309.48L411.75 317.84L412.10 331.34L412.44 348.42L412.78 366.76L413.12 383.84L413.46 397.34L413.81 405.70L414.15 397.12L414.49 383.26L414.83 365.74L415.17 346.91L415.51 329.38L415.86 315.52L416.20 306.94L416.54 315.23L416.88 328.62L417.22 345.55L417.57 363.74L417.91 380.67L418.25 394.07L418.59 402.35L418.93 394.12L419.28 380.81L419.62 363.99L419.96 345.91L420.30 329.09L420.64 315.78L420.98 307.55L421.33 315.34L421.67 327.94L422.01 343.86L422.35 360.97L422.69 376.89L423.04 389.48L423.38 397.28"/>
<path stroke="#ff7f0e" d="M72.80 368.10L73.17 369.71L73.54 368.35L73.91 366.09L74.29 363.83L74.66 362.47L75.06 367.04L75.45 371.61L75.85 368.51L76.24 363.76L76.64 360.66L77.01 362.29L77.38 365.00L77.75 367.71L78.12 369.34L78.49 368.20L78.87 366.31L79.24 364.41L79.61 363.28L80.00 367.37L80.40 371.46L80.80 368.52L81.19 364.04L81.59 361.10L81.96 362.60L82.33 365.08L82.70 367.57L83.07 369.06L83.44 367.95L83.81 366.09L84.19 364.23L84.56 363.12L84.96 367.50L85.35 371.89L85.75 368.82L86.14 364.12L86.54 361.05L86.91 362.46L87.28 364.78L87.65 367.11L88.02 368.51L88.39 367.64L88.77 366.21L89.14 364.77L89.51 363.90L89.91 367.85L90.30 371.80L90.70 368.88L91.09 364.43L91.49 361.51L91.86 362.90L92.23 365.21L92.60 367.53L92.97 368.92L93.34 367.89L93.72 366.19L94.09 364.49L94.46 363.46L94.86 367.50L95.25 371.54L95.65 368.80L96.04 364.61L96.44 361.87L96.81 363.25L97.18 365.54L97.55 367.83L97.92 369.21L98.29 368.28L98.67 366.73L99.04 365.17L99.41 364.24L99.81 367.68L100.20 371.13L100.60 368.31L100.99 364.01L101.39 361.20L101.76 362.65L102.13 365.07L102.50 367.49L102.87 368.95L103.24 367.91L103.62 366.20L103.99 364.48L104.36 363.45L104.76 367.81L105.15 372.18L105.55 368.83L105.94 363.70L106.34 360.35L106.71 362.10L107.08 365.01L107.45 367.91L107.82 369.66L108.19 368.56L108.57 366.74L108.94 364.91L109.31 363.81L109.71 367.73L110.10 371.65L110.50 368.60L110.89 363.93L111.29 360.88L111.66 362.37L112.03 364.84L112.40 367.31L112.77 368.80L113.14 367.83L113.52 366.22L113.89 364.61L114.26 363.64L114.66 367.82L115.05 372.01L115.45 368.89L115.84 364.12L116.24 361.01L116.61 362.58L116.98 365.19L117.35 367.80L117.72 369.37L118.09 368.11L118.47 366.02L118.84 363.92L119.21 362.66L119.61 367.20L120.00 371.73L120.40 368.68L120.79 364.00L121.19 360.94L121.56 362.44L121.93 364.93L122.30 367.42L122.67 368.92L123.04 367.82L123.42 365.99L123.79 364.16L124.16 363.06L124.56 367.21L124.95 371.35L125.35 368.24L125.74 363.49L126.14 360.38L126.51 361.98L126.88 364.64L127.25 367.30L127.62 368.90L127.99 368.02L128.37 366.55L128.74 365.07L129.11 364.19L129.51 367.87L129.90 371.55L130.30 368.74L130.69 364.43L131.09 361.62L131.46 363.13L131.83 365.65L132.20 368.16L132.57 369.68L132.94 368.63L133.32 366.90L133.69 365.16L134.06 364.12L134.46 367.91L134.85 371.71L135.25 368.58L135.64 363.79L136.04 360.66L136.41 362.26L136.78 364.93L137.15 367.60L137.52 369.21L137.89 368.09L138.27 366.22L138.64 364.36L139.01 363.24L139.41 367.66L139.80 372.09L140.20 368.98L140.59 364.22L140.99 361.10L141.36 362.60L141.73 365.10L142.10 367.59L142.47 369.09L142.84 368.09L143.22 366.43L143.59 364.76L143.96 363.76L144.36 367.67L144.75 371.58L145.15 368.68L145.54 364.23L145.94 361.33L146.31 362.83L146.68 365.33L147.05 367.83L147.42 369.33L147.79 368.27L148.16 366.50L148.54 364.73L148.91 363.66L149.31 367.66L149.70 371.66L150.10 368.74L150.49 364.27L150.89 361.35L151.26 362.78L151.63 365.16L152.00 367.54L152.37 368.97L152.74 367.84L153.11 365.96L153.49 364.09L153.86 362.96L154.25 367.22L154.65 371.48L155.05 368.49L155.44 363.90L155.84 360.91L156.21 362.44L156.58 365.00L156.95 367.56L157.32 369.09L157.69 367.97L158.06 366.09L158.44 364.22L158.81 363.09L159.20 367.39L159.60 371.69L160.00 368.40L160.39 363.37L160.79 360.08L161.16 361.84L161.53 364.75L161.90 367.66L162.27 369.41L162.64 368.21L163.01 366.22L163.39 364.23L163.76 363.03L164.15 367.19L164.55 371.35L164.95 368.28L165.34 363.60L165.74 360.53L166.11 362.14L166.48 364.80L166.85 367.46L167.22 369.06L167.59 368.10L167.96 366.49L168.34 364.89L168.71 363.92L169.10 367.79L169.50 371.65L169.90 368.46L170.29 363.58L170.69 360.38L171.06 361.97L171.43 364.60L171.80 367.23L172.17 368.82L172.54 367.99L172.91 366.61L173.29 365.23L173.66 364.40L174.05 367.64L174.45 370.89L174.85 368.10L175.24 363.84L175.64 361.05L176.01 362.65L176.38 365.30L176.75 367.96L177.12 369.55L177.49 368.47L177.86 366.66L178.24 364.85L178.61 363.76L179.00 368.04L179.40 372.32L179.80 369.41L180.19 364.94L180.59 362.03L180.96 363.37L181.33 365.60L181.70 367.83L182.07 369.17L182.44 368.01L182.81 366.10L183.19 364.18L183.56 363.03L183.95 367.40L184.35 371.76L184.75 368.53L185.14 363.59L185.54 360.36L185.91 362.10L186.28 364.99L186.65 367.88L187.02 369.62L187.39 368.58L187.76 366.85L188.14 365.11L188.51 364.07L188.90 368.10L189.30 372.13L189.70 368.82L190.09 363.76L190.49 360.45L190.86 362.11L191.23 364.86L191.60 367.62L191.97 369.27L192.34 368.29L192.71 366.67L193.09 365.04L193.46 364.06L193.85 367.75L194.25 371.44L194.65 368.53L195.04 364.09L195.44 361.18L195.81 362.74L196.18 365.34L196.55 367.94L196.92 369.50L197.29 368.39L197.66 366.54L198.04 364.70L198.41 363.58L198.80 367.52L199.20 371.45L199.60 368.45L199.99 363.85L200.39 360.84L200.76 362.40L201.13 365.00L201.50 367.60L201.87 369.16L202.24 368.09L202.61 366.31L202.99 364.53L203.36 363.46L203.75 367.59L204.15 371.72L204.55 368.69L204.94 364.05L205.34 361.02L205.71 362.59L206.08 365.20L206.45 367.81L206.82 369.37L207.19 368.17L207.56 366.18L207.94 364.19L208.31 362.99L208.70 366.91L209.10 370.83L209.50 368.09L209.89 363.91L210.29 361.17L210.66 362.74L211.03 365.35L211.40 367.97L211.77 369.54L212.14 368.43L212.51 366.58L212.89 364.73L213.26 363.62L213.65 367.62L214.05 371.63L214.45 368.59L214.84 363.94L215.24 360.90L215.61 362.48L215.98 365.11L216.35 367.73L216.72 369.31L217.09 368.28L217.46 366.56L217.84 364.85L218.21 363.82L218.60 367.84L219.00 371.87L219.40 368.91L219.79 364.38L220.19 361.42L220.56 362.92L220.93 365.42L221.30 367.91L221.67 369.42L222.04 368.21L222.41 366.22L222.79 364.22L223.16 363.01L223.55 367.50L223.95 371.99L224.35 368.83L224.74 364.01L225.14 360.86L225.51 362.37L225.88 364.87L226.25 367.38L226.62 368.89L226.99 367.88L227.36 366.19L227.74 364.51L228.11 363.50L228.50 367.46L228.90 371.41L229.30 368.60L229.69 364.30L230.09 361.49L230.46 362.94L230.83 365.34L231.20 367.73L231.57 369.18L231.94 368.10L232.31 366.32L232.69 364.53L233.06 363.46L233.45 367.79L233.85 372.11L234.25 369.08L234.64 364.44L235.04 361.41L235.41 362.97L235.78 365.56L236.15 368.14L236.52 369.70L236.89 368.52L237.26 366.57L237.64 364.61L238.01 363.43L237.40 374.72L236.80 386.00L237.12 381.39L237.44 373.66L237.76 364.74L238.08 357.01L238.40 352.40L238.71 355.59L239.02 360.40L239.33 366.61L239.64 373.81L239.95 381.55L240.26 389.29L240.57 396.49L240.88 402.70L241.19 407.51L241.50 410.70L241.84 401.76L242.18 387.32L242.53 369.06L242.87 349.44L243.21 331.18L243.55 316.74L243.89 307.80L244.24 317.64L244.58 333.55L244.92 353.65L245.26 375.25L245.60 395.35L245.94 411.26L246.29 421.10L246.63 411.13L246.97 395.01L247.31 374.64L247.65 352.76L248.00 332.39L248.34 316.27L248.68 306.30L249.02 316.00L249.36 331.68L249.71 351.50L250.05 372.80L250.39 392.62L250.73 408.30L251.07 418.00L251.41 408.25L251.76 392.48L252.10 372.56L252.44 351.14L252.78 331.22L253.12 315.45L253.47 305.70L253.81 314.73L254.15 329.33L254.49 347.79L254.83 367.61L255.18 386.07L255.52 400.67L255.86 409.70L256.20 400.36L256.54 385.27L256.88 366.20L257.23 345.70L257.57 326.63L257.91 311.54L258.25 302.20L258.59 311.17L258.94 325.67L259.28 344.00L259.62 363.70L259.96 382.03L260.30 396.53L260.65 405.50L260.99 396.35L261.33 381.55L261.67 362.85L262.01 342.75L262.35 324.05L262.70 309.25L263.04 300.10L263.38 309.25L263.72 324.05L264.06 342.75L264.41 362.85L264.75 381.55L265.09 396.35L265.43 405.50L265.77 395.96L266.12 380.55L266.46 361.07L266.80 340.13L267.14 320.65L267.48 305.24L267.82 295.70L268.17 305.87L268.51 322.31L268.85 343.09L269.19 365.41L269.53 386.19L269.88 402.63L270.22 412.80L270.56 402.74L270.90 386.49L271.24 365.94L271.59 343.86L271.93 323.31L272.27 307.06L272.61 297.00L272.95 307.33L273.29 324.02L273.64 345.12L273.98 367.78L274.32 388.88L274.66 405.57L275.00 415.90L275.35 405.96L275.69 389.90L276.03 369.61L276.37 347.79L276.71 327.50L277.06 311.44L277.40 301.50L277.74 311.71L278.08 328.20L278.42 349.05L278.76 371.45L279.11 392.30L279.45 408.79L279.79 419.00L280.13 409.03L280.47 392.91L280.82 372.54L281.16 350.66L281.50 330.29L281.84 314.17L282.18 304.20L282.53 314.54L282.87 331.24L283.21 352.36L283.55 375.04L283.89 396.16L284.23 412.86L284.58 423.20L284.92 413.59L285.26 398.07L285.60 378.44L285.94 357.36L286.29 337.73L286.63 322.21L286.97 312.60L287.31 322.80L287.65 339.28L288.00 360.11L288.34 382.49L288.68 403.32L289.02 419.80L289.36 430.00L289.70 420.26L290.05 404.50L290.39 384.60L290.73 363.20L291.07 343.30L291.41 327.54L291.76 317.80L292.10 327.68L292.44 343.64L292.78 363.81L293.12 385.49L293.47 405.66L293.81 421.62L294.15 431.50L294.49 421.96L294.83 406.55L295.17 387.07L295.52 366.13L295.86 346.65L296.20 331.24L296.54 321.70L296.88 331.47L297.23 347.26L297.57 367.23L297.91 388.67L298.25 408.64L298.59 424.43L298.94 434.20L299.28 425.08L299.62 410.34L299.96 391.71L300.30 371.69L300.64 353.06L300.99 338.32L301.33 329.20L301.67 338.50L302.01 353.54L302.35 372.54L302.70 392.96L303.04 411.96L303.38 427.00L303.72 436.30L304.06 427.00L304.41 411.96L304.75 392.96L305.09 372.54L305.43 353.54L305.77 338.50L306.11 329.20L306.46 338.32L306.80 353.06L307.14 371.69L307.48 391.71L307.82 410.34L308.17 425.08L308.51 434.20L308.85 424.58L309.19 409.02L309.53 389.36L309.88 368.24L310.22 348.58L310.56 333.02L310.90 323.40L311.24 333.02L311.58 348.58L311.93 368.24L312.27 389.36L312.61 409.02L312.95 424.58L313.29 434.20L313.64 424.39L313.98 408.54L314.32 388.51L314.66 366.99L315.00 346.96L315.35 331.11L315.69 321.30L316.03 330.78L316.37 346.09L316.71 365.45L317.05 386.25L317.40 405.61L317.74 420.92L318.08 430.40L318.42 420.29L318.76 403.95L319.11 383.30L319.45 361.10L319.79 340.45L320.13 324.11L320.47 314.00L320.82 323.51L321.16 338.88L321.50 358.31L321.84 379.19L322.18 398.62L322.52 413.99L322.87 423.50L323.21 413.63L323.55 397.69L323.89 377.53L324.23 355.87L324.58 335.71L324.92 319.77L325.26 309.90L325.60 319.40L325.94 334.76L326.29 354.17L326.63 375.03L326.97 394.44L327.31 409.80L327.65 419.30L327.99 409.56L328.34 393.83L328.68 373.94L329.02 352.56L329.36 332.67L329.70 316.94L330.05 307.20L330.39 316.24L330.73 330.86L331.07 349.33L331.41 369.17L331.76 387.64L332.10 402.26L332.44 411.30L332.78 401.95L333.12 386.83L333.46 367.72L333.81 347.18L334.15 328.07L334.49 312.95L334.83 303.60L335.17 312.36L335.52 326.53L335.86 344.43L336.20 363.67L336.54 381.57L336.88 395.74L337.23 404.50L337.57 395.74L337.91 381.57L338.25 363.67L338.59 344.43L338.93 326.53L339.28 312.36L339.62 303.60L339.96 312.00L340.30 325.57L340.64 342.73L340.99 361.17L341.33 378.33L341.67 391.90L342.01 400.30L342.35 391.90L342.70 378.33L343.04 361.17L343.38 342.73L343.72 325.57L344.06 312.00L344.40 303.60L344.75 311.82L345.09 325.10L345.43 341.88L345.77 359.92L346.11 376.70L346.46 389.98L346.80 398.20L347.14 389.90L347.48 376.48L347.82 359.51L348.17 341.29L348.51 324.32L348.85 310.90L349.19 302.60L349.53 311.27L349.87 325.28L350.22 342.99L350.56 362.01L350.90 379.72L351.24 393.73L351.58 402.40L351.93 394.09L352.27 380.65L352.61 363.67L352.95 345.43L353.29 328.45L353.64 315.01L353.98 306.70L354.32 315.50L354.66 329.72L355.00 347.69L355.34 367.01L355.69 384.98L356.03 399.20L356.37 408.00L356.71 399.38L357.05 385.46L357.40 367.86L357.74 348.94L358.08 331.34L358.42 317.42L358.76 308.80L359.11 317.65L359.45 331.96L359.79 350.04L360.13 369.46L360.47 387.54L360.81 401.85L361.16 410.70L361.50 402.18L361.84 388.41L362.18 371.00L362.52 352.30L362.87 334.89L363.21 321.12L363.55 312.60L363.89 321.72L364.23 336.46L364.58 355.09L364.92 375.11L365.26 393.74L365.60 408.48L365.94 417.60L366.28 409.02L366.63 395.15L366.97 377.62L367.31 358.78L367.65 341.25L367.99 327.38L368.34 318.80L368.68 327.74L369.02 342.18L369.36 360.44L369.70 380.06L370.05 398.32L370.39 412.76L370.73 421.70L371.07 413.10L371.41 399.20L371.75 381.64L372.10 362.76L372.44 345.20L372.78 331.30L373.12 322.70L373.46 331.43L373.81 345.54L374.15 363.37L374.49 382.53L374.83 400.36L375.17 414.47L375.52 423.20L375.86 414.98L376.20 401.70L376.54 384.92L376.88 366.88L377.22 350.10L377.57 336.82L377.91 328.60L378.25 337.23L378.59 351.19L378.93 368.82L379.28 387.78L379.62 405.41L379.96 419.37L380.30 428.00L380.64 419.85L380.99 406.69L381.33 390.04L381.67 372.16L382.01 355.51L382.35 342.35L382.69 334.20L383.04 342.29L383.38 355.36L383.72 371.87L384.06 389.63L384.40 406.14L384.75 419.21L385.09 427.30L385.43 419.08L385.77 405.80L386.11 389.02L386.46 370.98L386.80 354.20L387.14 340.92L387.48 332.70L387.82 340.74L388.16 353.74L388.51 370.17L388.85 387.83L389.19 404.26L389.53 417.26L389.87 425.30L390.22 416.95L390.56 403.46L390.90 386.41L391.24 368.09L391.58 351.04L391.93 337.55L392.27 329.20L392.61 337.55L392.95 351.04L393.29 368.09L393.63 386.41L393.98 403.46L394.32 416.95L394.66 425.30L395.00 416.48L395.34 402.24L395.69 384.23L396.03 364.87L396.37 346.86L396.71 332.62L397.05 323.80L397.40 332.16L397.74 345.66L398.08 362.73L398.42 381.07L398.76 398.14L399.10 411.64L399.45 420.00L399.79 411.06L400.13 396.62L400.47 378.36L400.81 358.74L401.16 340.48L401.50 326.04L401.84 317.10L402.18 325.72L402.52 339.64L402.87 357.24L403.21 376.16L403.55 393.76L403.89 407.68L404.23 416.30L404.57 407.47L404.92 393.19L405.26 375.14L405.60 355.76L405.94 337.71L406.28 323.43L406.63 314.60L406.97 323.13L407.31 336.91L407.65 354.34L407.99 373.06L408.34 390.49L408.68 404.27L409.02 412.80L409.36 403.90L409.70 389.51L410.04 371.32L410.39 351.78L410.73 333.59L411.07 319.20L411.41 310.30L411.75 318.53L412.10 331.84L412.44 348.66L412.78 366.74L413.12 383.56L413.46 396.87L413.81 405.10L414.15 396.65L414.49 382.99L414.83 365.73L415.17 347.17L415.51 329.91L415.86 316.25L416.20 307.80L416.54 315.96L416.88 329.16L417.22 345.84L417.57 363.76L417.91 380.44L418.25 393.64L418.59 401.80L418.93 393.69L419.28 380.58L419.62 364.00L419.96 346.20L420.30 329.62L420.64 316.51L420.98 308.40L421.33 316.08L421.67 328.49L422.01 344.17L422.35 361.03L422.69 376.71L423.04 389.12L423.38 396.80"/>
</g>
<g clip-path="url(#c3)" fill="none" stroke-width="0.85" stroke-linejoin="round">
<path stroke="#1f77b4" d="M496.04 370.82L497.27 361.50L498.43 364.71L499.51 361.06L500.98 368.96L502.15 359.25L503.44 365.05L504.54 362.58L505.62 371.41L506.69 357.24L507.89 366.95L509.16 361.95L510.22 371.37L511.27 359.82L512.72 366.25L513.82 359.88L514.85 368.94L516.12 358.05L517.19 367.59L518.56 361.10L519.72 369.48L521.15 361.20L522.48 364.36L523.55 361.45L524.66 372.12L525.84 358.62L526.86 365.01L527.98 359.86L529.19 368.43L530.34 361.26L531.41 366.63L532.88 359.41L534.12 372.60L535.47 360.72L536.52 364.01L537.99 360.59L539.29 370.45L540.52 357.73L541.86 364.62L543.27 361.30L544.71 367.21L545.94 358.69L547.13 365.98L548.31 365.33L549.54 367.92L550.61 357.67L551.89 367.69L553.01 362.66L554.16 366.01L555.32 359.48L556.37 365.90L557.52 363.12L558.72 368.49L559.90 359.88L560.97 366.94L562.46 362.60L563.56 367.77L564.86 358.08L565.88 363.11L567.23 361.55L568.24 369.49L569.27 359.21L570.31 366.53L571.53 362.22L572.53 371.21L573.98 358.53L575.14 362.98L576.15 361.06L577.20 371.26L578.37 357.24L579.77 365.69L581.08 361.83L582.37 369.05L583.69 358.42L585.13 366.39L586.48 362.85L587.71 367.78L589.13 354.32L590.57 369.45L591.82 360.09L592.92 366.52L594.35 359.45L595.49 369.25L596.54 365.72L597.83 366.57L599.08 359.33L600.56 371.63L601.87 362.69L602.97 365.86L604.32 358.70L605.81 370.98L607.03 359.81L608.15 364.42L609.34 361.22L610.67 370.58L612.15 358.65L613.58 367.31L614.72 360.22L616.03 370.33L617.43 358.53L618.60 366.95L619.92 361.89L621.40 367.08L622.80 359.60L623.90 368.13L625.21 361.04L626.47 366.43L627.54 356.65L628.61 367.89L629.67 361.30L630.89 366.29L632.22 358.60L633.45 370.90L634.81 363.11L636.01 366.46L637.34 358.39L638.84 368.46L640.32 360.03L641.42 363.04L642.72 357.10L644.13 367.55L645.19 359.94L646.41 365.19L647.66 359.45L649.05 369.70L650.54 358.60L651.75 364.10L653.07 361.47L654.51 366.33L655.65 356.13L657.00 367.78L658.47 363.86L659.77 362.93L660.80 356.47L661.98 365.65L662.30 352.00L663.00 375.00L663.26 365.36L663.53 349.22L663.79 330.59L664.06 314.45L664.32 304.81L664.59 313.79L664.85 327.64L665.12 345.47L665.39 365.90L665.65 387.24L665.92 407.67L666.18 425.50L666.45 439.36L666.71 448.33L666.98 438.96L667.25 424.50L667.51 405.88L667.78 384.56L668.04 362.29L668.31 340.96L668.57 322.35L668.84 307.89L669.11 298.52L669.37 306.24L669.64 318.15L669.90 333.49L670.17 351.06L670.43 369.40L670.70 386.97L670.96 402.31L671.23 414.22L671.50 421.94L671.76 413.82L672.03 401.29L672.29 385.16L672.56 366.68L672.82 347.38L673.09 328.90L673.36 312.77L673.62 300.24L673.89 292.12L674.15 300.90L674.42 314.45L674.68 331.90L674.95 351.88L675.21 372.74L675.48 392.72L675.75 410.17L676.01 423.72L676.28 432.50L676.54 425.66L676.81 415.11L677.07 401.52L677.34 385.96L677.61 369.72L677.87 354.15L678.14 340.57L678.40 330.02L678.67 323.18L678.93 331.01L679.20 343.09L679.46 358.64L679.73 376.46L680.00 395.06L680.26 412.87L680.53 428.42L680.79 440.51L681.06 448.33L681.32 439.39L681.59 425.60L681.86 407.84L682.12 387.50L682.39 366.25L682.65 345.91L682.92 328.15L683.18 314.36L683.45 305.42L683.72 312.84L683.98 324.29L684.25 339.04L684.51 355.93L684.78 373.56L685.04 390.45L685.31 405.20L685.57 416.65L685.84 424.07L686.11 416.52L686.37 404.86L686.64 389.85L686.90 372.66L687.17 354.70L687.43 337.51L687.70 322.50L687.97 310.84L688.23 303.29L688.50 312.69L688.76 327.20L689.03 345.88L689.29 367.28L689.56 389.62L689.82 411.02L690.09 429.70L690.36 444.21L690.62 453.61L690.89 445.49L691.15 432.96L691.42 416.83L691.68 398.35L691.95 379.05L692.22 360.57L692.48 344.44L692.75 331.91L693.01 323.79L693.28 331.42L693.54 343.20L693.81 358.36L694.07 375.73L694.34 393.86L694.61 411.23L694.87 426.39L695.14 438.16L695.40 445.79L695.67 436.25L695.93 421.53L696.20 402.57L696.47 380.85L696.73 358.18L697.00 336.46L697.26 317.51L697.53 302.78L697.79 293.24L698.06 301.64L698.33 314.62L698.59 331.32L698.86 350.45L699.12 370.42L699.39 389.55L699.65 406.25L699.92 419.22L700.18 427.63L700.45 419.52L700.72 407.01L700.98 390.90L701.25 372.45L701.51 353.19L701.78 334.73L702.04 318.63L702.31 306.12L702.58 298.01L702.84 307.51L703.11 322.18L703.37 341.06L703.64 362.69L703.90 385.27L704.17 406.90L704.43 425.78L704.70 440.45L704.97 449.96L705.23 440.75L705.50 426.53L705.76 408.23L706.03 387.26L706.29 365.37L706.56 344.41L706.83 326.11L707.09 311.89L707.36 302.68L707.62 309.94L707.89 321.15L708.15 335.58L708.42 352.11L708.68 369.37L708.95 385.90L709.22 400.32L709.48 411.53L709.75 418.80L710.01 409.65L710.28 395.53L710.54 377.35L710.81 356.53L711.08 334.79L711.34 313.97L711.61 295.80L711.87 281.68L712.14 272.53L712.40 281.52L712.67 295.40L712.94 313.26L713.20 333.71L713.47 355.08L713.73 375.54L714.00 393.39L714.26 407.27L714.53 416.26L714.79 408.56L715.06 396.69L715.33 381.40L715.59 363.89L715.86 345.61L716.12 328.09L716.39 312.81L716.65 300.93L716.92 293.24L717.19 301.75L717.45 314.89L717.72 331.80L717.98 351.18L718.25 371.41L718.51 390.79L718.78 407.70L719.04 420.84L719.31 429.35L719.58 420.31L719.84 406.36L720.11 388.40L720.37 367.82L720.64 346.34L720.90 325.77L721.17 307.81L721.44 293.85L721.70 284.81L721.97 291.87L722.23 302.77L722.50 316.79L722.76 332.86L723.03 349.64L723.29 365.70L723.56 379.73L723.83 390.62L724.09 397.68L724.36 389.63L724.62 377.21L724.89 361.22L725.15 342.90L725.42 323.77L725.69 305.45L725.95 289.45L726.22 277.03L726.48 268.98L726.75 277.82L727.01 291.47L727.28 309.04L727.55 329.17L727.81 350.18L728.08 370.31L728.34 387.88L728.61 401.53L728.87 410.37L729.14 403.28L729.40 392.34L729.67 378.25L729.94 362.11L730.20 345.26L730.47 329.12L730.73 315.03L731.00 304.09L731.26 297.00L731.53 305.14L731.80 317.71L732.06 333.89L732.33 352.43L732.59 371.79L732.86 390.32L733.12 406.50L733.39 419.08L733.65 427.22L733.92 417.76L734.19 403.15L734.45 384.34L734.72 362.80L734.98 340.30L735.25 318.76L735.51 299.96L735.78 285.35L736.05 275.88L736.31 283.96L736.58 296.44L736.84 312.49L737.11 330.89L737.37 350.09L737.64 368.48L737.91 384.54L738.17 397.01L738.44 405.09L738.70 397.44L738.97 385.62L739.23 370.41L739.50 352.99L739.76 334.79L740.03 317.37L740.30 302.16L740.56 290.34L740.83 282.68L741.09 292.15L741.36 306.76L741.62 325.56L741.89 347.10L742.16 369.60L742.42 391.14L742.69 409.95L742.95 424.56L743.22 434.02L743.48 426.14L743.75 413.97L744.01 398.30L744.28 380.36L744.55 361.62L744.81 343.67L745.08 328.01L745.34 315.84L745.61 307.96L745.87 315.75L746.14 327.77L746.41 343.24L746.67 360.97L746.94 379.48L747.20 397.21L747.47 412.69L747.73 424.71L748.00 432.50L748.26 423.33L748.53 409.17L748.80 390.94L749.06 370.06L749.33 348.26L749.59 327.39L749.86 309.16L750.12 295.00L750.39 285.83L750.66 294.27L750.92 307.30L751.19 324.08L751.45 343.30L751.72 363.36L751.98 382.58L752.25 399.35L752.52 412.38L752.78 420.82L753.05 414.03L753.31 403.55L753.58 390.05L753.84 374.59L754.11 358.45L754.37 342.99L754.64 329.50L754.91 319.01L755.17 312.22L755.44 320.89L755.70 334.28L755.97 351.50L756.23 371.24L756.50 391.85L756.77 411.59L757.03 428.81L757.30 442.20L757.56 450.87L757.83 442.79L758.09 430.31L758.36 414.26L758.62 395.87L758.89 376.66L759.16 358.27L759.42 342.21L759.69 329.74L759.95 321.66L760.22 328.39L760.48 338.79L760.75 352.17L761.02 367.50L761.28 383.51L761.55 398.84L761.81 412.22L762.08 422.62L762.34 429.35L762.61 421.63L762.87 409.70L763.14 394.35L763.41 376.77L763.67 358.41L763.94 340.82L764.20 325.48L764.47 313.55L764.73 305.83L765.00 313.58L765.27 325.54L765.53 340.94L765.80 358.58L766.06 377.00L766.33 394.64L766.59 410.04L766.86 422.01L767.13 429.76L767.39 423.36L767.66 413.48L767.92 400.77L768.19 386.20L768.45 371.00L768.72 356.43L768.98 343.72L769.25 333.84L769.52 327.44L769.78 335.03L770.05 346.74L770.31 361.81L770.58 379.08L770.84 397.11L771.11 414.37L771.38 429.44L771.64 441.15L771.91 448.74L772.17 440.57L772.44 427.96L772.70 411.73L772.97 393.13L773.23 373.71L773.50 355.12L773.77 338.89L774.03 326.28L774.30 318.11L774.56 324.40L774.83 334.12L775.09 346.64L775.36 360.97L775.63 375.93L775.89 390.27L776.16 402.78L776.42 412.50L776.69 418.80L776.95 411.20L777.22 399.48L777.48 384.40L777.75 367.12L778.02 349.08L778.28 331.80L778.55 316.71L778.81 304.99L779.08 297.40L779.34 305.85L779.61 318.89L779.88 335.68L780.14 354.91L780.41 374.99L780.67 394.22L780.94 411.01L781.20 424.05L781.47 432.50L781.74 425.48L782.00 414.64L782.27 400.69L782.53 384.71L782.80 368.03L783.06 352.05L783.33 338.10L783.59 327.26L783.86 320.24L784.13 327.26L784.39 338.10L784.66 352.05L784.92 368.03L785.19 384.71L785.45 400.69L785.72 414.64L785.99 425.48L786.25 432.50L786.52 423.85L786.78 410.51L787.05 393.33L787.31 373.65L787.58 353.10L787.84 333.42L788.11 316.25L788.38 302.90L788.64 294.25L788.91 301.27L789.17 312.11L789.44 326.06L789.70 342.04L789.97 358.73L790.24 374.71L790.50 388.66L790.77 399.49L791.03 406.51L791.30 399.23L791.56 387.98L791.83 373.50L792.09 356.91L792.36 339.59L792.63 323.01L792.89 308.53L793.16 297.28L793.42 289.99L793.69 298.47L793.95 311.55L794.22 328.38L794.49 347.67L794.75 367.81L795.02 387.10L795.28 403.94L795.55 417.02L795.81 425.49L796.08 418.12L796.35 406.73L796.61 392.08L796.88 375.29L797.14 357.76L797.41 340.97L797.67 326.31L797.94 314.93L798.20 307.55L798.47 313.85L798.74 323.57L799.00 336.08L799.27 350.41L799.53 365.38L799.80 379.71L800.06 392.22L800.33 401.94L800.60 408.24L800.86 400.15L801.13 387.65L801.39 371.57L801.66 353.15L801.92 333.92L802.19 315.49L802.45 299.41L802.72 286.92L802.99 278.83L803.25 286.13L803.52 297.39L803.78 311.90L804.05 328.51L804.31 345.86L804.58 362.48L804.85 376.98L805.11 388.25L805.38 395.55L805.64 389.18L805.91 379.34L806.17 366.68L806.44 352.17L806.71 337.03L806.97 322.52L807.24 309.86L807.50 300.02L807.77 293.65L808.03 301.41L808.30 313.39L808.56 328.82L808.83 346.49L809.10 364.94L809.36 382.61L809.63 398.03L809.89 410.02L810.16 417.78L810.42 410.49L810.69 399.24L810.96 384.77L811.22 368.18L811.49 350.86L811.75 334.27L812.02 319.79L812.28 308.54L812.55 301.26L812.81 307.75L813.08 317.78L813.35 330.68L813.61 345.46L813.88 360.89L814.14 375.67L814.41 388.57L814.67 398.60L814.94 405.09L815.21 397.27L815.47 385.18L815.74 369.63L816.00 351.82L816.27 333.22L816.53 315.40L816.80 299.85L817.06 287.77L817.33 279.94L817.60 288.03L817.86 300.51L818.13 316.58L818.39 334.99L818.66 354.21L818.92 372.62L819.19 388.68L819.46 401.17L819.72 409.25L819.99 402.99L820.25 393.32L820.52 380.87L820.78 366.61L821.05 351.72L821.32 337.46L821.58 325.01L821.85 315.34L822.11 309.07L822.38 316.93L822.64 329.05L822.91 344.65L823.17 362.52L823.44 381.18L823.71 399.05L823.97 414.66L824.24 426.78L824.50 434.63L824.77 426.38L825.03 413.64L825.30 397.24L825.57 378.46L825.83 358.85L826.10 340.06L826.36 323.67L826.63 310.93L826.89 302.68L827.16 309.57L827.42 320.21L827.69 333.91L827.96 349.60L828.22 365.99L828.49 381.68L828.75 395.37L829.02 406.01L829.28 412.91L829.55 405.68L829.82 394.53L830.08 380.18L830.35 363.74L830.61 346.57L830.88 330.13L831.14 315.78L831.41 304.62L831.67 297.40L831.94 305.72L832.21 318.55L832.47 335.07L832.74 354.00L833.00 373.77L833.27 392.69L833.53 409.21L833.80 422.05L834.07 430.37L834.33 423.93L834.60 413.99L834.86 401.21L835.13 386.55L835.39 371.26L835.66 356.61L835.93 343.82L836.19 333.88L836.46 327.44L836.72 334.45L836.99 345.25L837.25 359.17L837.52 375.10L837.78 391.74L838.05 407.68L838.32 421.59L838.58 432.40L838.85 439.40L839.11 431.29L839.38 418.76L839.64 402.65L839.91 384.18L840.18 364.90L840.44 346.44L840.71 330.32L840.97 317.79L841.24 309.68L841.50 316.37L841.77 326.70L842.03 339.99L842.30 355.22L842.57 371.12L842.83 386.35L843.10 399.65L843.36 409.97L843.63 416.66L843.89 410.60L844.16 401.23L844.43 389.17L844.69 375.36L844.96 360.94L845.22 347.12L845.49 335.07L845.75 325.70L846.02 319.63"/>
<path stroke="#ff7f0e" d="M496.04 369.82L497.27 360.50L498.43 363.71L499.51 360.06L500.98 367.96L502.15 358.25L503.44 364.05L504.54 361.58L505.62 370.41L506.69 356.24L507.89 365.95L509.16 360.95L510.22 370.37L511.27 358.82L512.72 365.25L513.82 358.88L514.85 367.94L516.12 357.05L517.19 366.59L518.56 360.10L519.72 368.48L521.15 360.20L522.48 363.36L523.55 360.45L524.66 371.12L525.84 357.62L526.86 364.01L527.98 358.86L529.19 367.43L530.34 360.26L531.41 365.63L532.88 358.41L534.12 371.60L535.47 359.72L536.52 363.01L537.99 359.59L539.29 369.45L540.52 356.73L541.86 363.62L543.27 360.30L544.71 366.21L545.94 357.69L547.13 364.98L548.31 364.33L549.54 366.92L550.61 356.67L551.89 366.69L553.01 361.66L554.16 365.01L555.32 358.48L556.37 364.90L557.52 362.12L558.72 367.49L559.90 358.88L560.97 365.94L562.46 361.60L563.56 366.77L564.86 357.08L565.88 362.11L567.23 360.55L568.24 368.49L569.27 358.21L570.31 365.53L571.53 361.22L572.53 370.21L573.98 357.53L575.14 361.98L576.15 360.06L577.20 370.26L578.37 356.24L579.77 364.69L581.08 360.83L582.37 368.05L583.69 357.42L585.13 365.39L586.48 361.85L587.71 366.78L589.13 353.32L590.57 368.45L591.82 359.09L592.92 365.52L594.35 358.45L595.49 368.25L596.54 364.72L597.83 365.57L599.08 358.33L600.56 370.63L601.87 361.69L602.97 364.86L604.32 357.70L605.81 369.98L607.03 358.81L608.15 363.42L609.34 360.22L610.67 369.58L612.15 357.65L613.58 366.31L614.72 359.22L616.03 369.33L617.43 357.53L618.60 365.95L619.92 360.89L621.40 366.08L622.80 358.60L623.90 367.13L625.21 360.04L626.47 365.43L627.54 355.65L628.61 366.89L629.67 360.30L630.89 365.29L632.22 357.60L633.45 369.90L634.81 362.11L636.01 365.46L637.34 357.39L638.84 367.46L640.32 359.03L641.42 362.04L642.72 356.10L644.13 366.55L645.19 358.94L646.41 364.19L647.66 358.45L649.05 368.70L650.54 357.60L651.75 363.10L653.07 360.47L654.51 365.33L655.65 355.13L657.00 366.78L658.47 362.86L659.77 361.93L660.80 355.47L661.98 364.65L662.30 350.00L663.00 372.00L663.26 362.90L663.53 347.65L663.79 330.05L664.06 314.80L664.32 305.70L664.59 313.63L664.85 325.87L665.12 341.63L665.39 359.68L665.65 378.52L665.92 396.57L666.18 412.33L666.45 424.57L666.71 432.50L666.98 424.18L667.25 411.34L667.51 394.82L667.78 375.88L668.04 356.12L668.31 337.18L668.57 320.66L668.84 307.82L669.11 299.50L669.37 307.10L669.64 318.84L669.90 333.95L670.17 351.26L670.43 369.34L670.70 386.65L670.96 401.76L671.23 413.50L671.50 421.10L671.76 413.10L672.03 400.75L672.29 384.86L672.56 366.66L672.82 347.64L673.09 329.44L673.36 313.55L673.62 301.20L673.89 293.20L674.15 301.85L674.42 315.20L674.68 332.38L674.95 352.07L675.21 372.63L675.48 392.31L675.75 409.50L676.01 422.85L676.28 431.50L676.54 424.76L676.81 414.37L677.07 400.99L677.34 385.65L677.61 369.65L677.87 354.32L678.14 340.93L678.40 330.54L678.67 323.80L678.93 331.51L679.20 343.41L679.46 358.74L679.73 376.29L680.00 394.61L680.26 412.17L680.53 427.49L680.79 439.39L681.06 447.10L681.32 438.29L681.59 424.70L681.86 407.21L682.12 387.16L682.39 366.24L682.65 346.19L682.92 328.70L683.18 315.11L683.45 306.30L683.72 313.61L683.98 324.90L684.25 339.42L684.51 356.06L684.78 373.44L685.04 390.08L685.31 404.60L685.57 415.89L685.84 423.20L686.11 415.76L686.37 404.27L686.64 389.48L686.90 372.54L687.17 354.86L687.43 337.92L687.70 323.13L687.97 311.64L688.23 304.20L688.50 313.46L688.76 327.76L689.03 346.16L689.29 367.24L689.56 389.26L689.82 410.34L690.09 428.74L690.36 443.04L690.62 452.30L690.89 444.30L691.15 431.95L691.42 416.06L691.68 397.86L691.95 378.84L692.22 360.64L692.48 344.75L692.75 332.40L693.01 324.40L693.28 331.92L693.54 343.52L693.81 358.46L694.07 375.57L694.34 393.43L694.61 410.54L694.87 425.48L695.14 437.08L695.40 444.60L695.67 435.20L695.93 420.69L696.20 402.02L696.47 380.62L696.73 358.28L697.00 336.89L697.26 318.21L697.53 303.70L697.79 294.30L698.06 302.58L698.33 315.36L698.59 331.81L698.86 350.66L699.12 370.34L699.39 389.19L699.65 405.64L699.92 418.42L700.18 426.70L700.45 418.71L700.72 406.39L700.98 390.52L701.25 372.34L701.51 353.36L701.78 335.18L702.04 319.31L702.31 306.99L702.58 299.00L702.84 308.36L703.11 322.81L703.37 341.42L703.64 362.72L703.90 384.98L704.17 406.28L704.43 424.89L704.70 439.34L704.97 448.70L705.23 439.63L705.50 425.62L705.76 407.59L706.03 386.93L706.29 365.37L706.56 344.71L706.83 326.68L707.09 312.67L707.36 303.60L707.62 310.75L707.89 321.80L708.15 336.01L708.42 352.30L708.68 369.30L708.95 385.59L709.22 399.80L709.48 410.85L709.75 418.00L710.01 408.99L710.28 395.08L710.54 377.17L710.81 356.66L711.08 335.24L711.34 314.73L711.61 296.82L711.87 282.91L712.14 273.90L712.40 282.76L712.67 296.43L712.94 314.02L713.20 334.18L713.47 355.22L713.73 375.38L714.00 392.97L714.26 406.64L714.53 415.50L714.79 407.92L715.06 396.22L715.33 381.16L715.59 363.91L715.86 345.89L716.12 328.64L716.39 313.58L716.65 301.88L716.92 294.30L717.19 302.69L717.45 315.63L717.72 332.30L717.98 351.38L718.25 371.32L718.51 390.40L718.78 407.07L719.04 420.01L719.31 428.40L719.58 419.49L719.84 405.75L720.11 388.05L720.37 367.78L720.64 346.62L720.90 326.35L721.17 308.65L721.44 294.91L721.70 286.00L721.97 292.95L722.23 303.69L722.50 317.51L722.76 333.34L723.03 349.86L723.29 365.69L723.56 379.51L723.83 390.25L724.09 397.20L724.36 389.27L724.62 377.03L724.89 361.27L725.15 343.22L725.42 324.38L725.69 306.33L725.95 290.57L726.22 278.33L726.48 270.40L726.75 279.11L727.01 292.56L727.28 309.87L727.55 329.70L727.81 350.40L728.08 370.23L728.34 387.54L728.61 400.99L728.87 409.70L729.14 402.71L729.40 391.93L729.67 378.05L729.94 362.15L730.20 345.55L730.47 329.65L730.73 315.77L731.00 304.99L731.26 298.00L731.53 306.02L731.80 318.41L732.06 334.35L732.33 352.62L732.59 371.68L732.86 389.95L733.12 405.89L733.39 418.28L733.65 426.30L733.92 416.98L734.19 402.58L734.45 384.06L734.72 362.83L734.98 340.67L735.25 319.44L735.51 300.92L735.78 286.52L736.05 277.20L736.31 285.16L736.58 297.45L736.84 313.27L737.11 331.39L737.37 350.31L737.64 368.43L737.91 384.25L738.17 396.54L738.44 404.50L738.70 396.96L738.97 385.32L739.23 370.33L739.50 353.16L739.76 335.24L740.03 318.07L740.30 303.08L740.56 291.44L740.83 283.90L741.09 293.22L741.36 307.62L741.62 326.14L741.89 347.37L742.16 369.53L742.42 390.75L742.69 409.28L742.95 423.68L743.22 433.00L743.48 425.23L743.75 413.24L744.01 397.81L744.28 380.13L744.55 361.67L744.81 343.99L745.08 328.56L745.34 316.57L745.61 308.80L745.87 316.47L746.14 328.32L746.41 343.56L746.67 361.03L746.94 379.27L747.20 396.74L747.47 411.98L747.73 423.83L748.00 431.50L748.26 422.46L748.53 408.51L748.80 390.56L749.06 369.99L749.33 348.51L749.59 327.94L749.86 309.99L750.12 296.04L750.39 287.00L750.66 295.32L750.92 308.16L751.19 324.68L751.45 343.62L751.72 363.38L751.98 382.32L752.25 398.84L752.52 411.68L752.78 420.00L753.05 413.31L753.31 402.98L753.58 389.68L753.84 374.45L754.11 358.55L754.37 343.32L754.64 330.02L754.91 319.69L755.17 313.00L755.44 321.54L755.70 334.73L755.97 351.70L756.23 371.15L756.50 391.45L756.77 410.90L757.03 427.87L757.30 441.06L757.56 449.60L757.83 441.64L758.09 429.35L758.36 413.53L758.62 395.41L758.89 376.49L759.16 358.37L759.42 342.55L759.69 330.26L759.95 322.30L760.22 328.94L760.48 339.18L760.75 352.36L761.02 367.47L761.28 383.23L761.55 398.34L761.81 411.52L762.08 421.76L762.34 428.40L762.61 420.79L762.87 409.04L763.14 393.92L763.41 376.59L763.67 358.51L763.94 341.18L764.20 326.06L764.47 314.31L764.73 306.70L765.00 314.34L765.27 326.12L765.53 341.30L765.80 358.68L766.06 376.82L766.33 394.20L766.59 409.38L766.86 421.16L767.13 428.80L767.39 422.50L767.66 412.77L767.92 400.24L768.19 385.89L768.45 370.91L768.72 356.56L768.98 344.03L769.25 334.30L769.52 328.00L769.78 335.47L770.05 347.01L770.31 361.86L770.58 378.87L770.84 396.63L771.11 413.64L771.38 428.49L771.64 440.03L771.91 447.50L772.17 439.45L772.44 427.03L772.70 411.04L772.97 392.71L773.23 373.59L773.50 355.26L773.77 339.27L774.03 326.85L774.30 318.80L774.56 325.00L774.83 334.58L775.09 346.91L775.36 361.03L775.63 375.77L775.89 389.89L776.16 402.22L776.42 411.80L776.69 418.00L776.95 410.52L777.22 398.97L777.48 384.11L777.75 367.09L778.02 349.31L778.28 332.29L778.55 317.43L778.81 305.88L779.08 298.40L779.34 306.72L779.61 319.57L779.88 336.11L780.14 355.06L780.41 374.84L780.67 393.79L780.94 410.33L781.20 423.18L781.47 431.50L781.74 424.58L782.00 413.91L782.27 400.16L782.53 384.42L782.80 367.98L783.06 352.24L783.33 338.49L783.59 327.82L783.86 320.90L784.13 327.82L784.39 338.49L784.66 352.24L784.92 367.98L785.19 384.42L785.45 400.16L785.72 413.91L785.99 424.58L786.25 431.50L786.52 422.98L786.78 409.83L787.05 392.91L787.31 373.52L787.58 353.28L787.84 333.89L788.11 316.97L788.38 303.82L788.64 295.30L788.91 302.22L789.17 312.89L789.44 326.64L789.70 342.38L789.97 358.82L790.24 374.56L790.50 388.31L790.77 398.98L791.03 405.90L791.30 398.72L791.56 387.64L791.83 373.37L792.09 357.03L792.36 339.97L792.63 323.63L792.89 309.36L793.16 298.28L793.42 291.10L793.69 299.45L793.95 312.34L794.22 328.93L794.49 347.93L794.75 367.77L795.02 386.77L795.28 403.36L795.55 416.25L795.81 424.60L796.08 417.33L796.35 406.12L796.61 391.68L796.88 375.14L797.14 357.86L797.41 341.32L797.67 326.88L797.94 315.67L798.20 308.40L798.47 314.60L798.74 324.18L799.00 336.51L799.27 350.63L799.53 365.37L799.80 379.49L800.06 391.82L800.33 401.40L800.60 407.60L800.86 399.63L801.13 387.32L801.39 371.48L801.66 353.33L801.92 334.37L802.19 316.23L802.45 300.38L802.72 288.07L802.99 280.10L803.25 287.29L803.52 298.39L803.78 312.68L804.05 329.05L804.31 346.15L804.58 362.52L804.85 376.81L805.11 387.91L805.38 395.10L805.64 388.82L805.91 379.13L806.17 366.65L806.44 352.36L806.71 337.44L806.97 323.15L807.24 310.67L807.50 300.98L807.77 294.70L808.03 302.35L808.30 314.15L808.56 329.35L808.83 346.76L809.10 364.94L809.36 382.35L809.63 397.55L809.89 409.35L810.16 417.00L810.42 409.82L810.69 398.74L810.96 384.47L811.22 368.13L811.49 351.07L811.75 334.73L812.02 320.46L812.28 309.38L812.55 302.20L812.81 308.60L813.08 318.47L813.35 331.19L813.61 345.75L813.88 360.95L814.14 375.51L814.41 388.23L814.67 398.10L814.94 404.50L815.21 396.79L815.47 384.89L815.74 369.56L816.00 352.01L816.27 333.69L816.53 316.13L816.80 300.81L817.06 288.91L817.33 281.20L817.60 289.17L817.86 301.47L818.13 317.30L818.39 335.43L818.66 354.37L818.92 372.50L819.19 388.33L819.46 400.63L819.72 408.60L819.99 402.43L820.25 392.90L820.52 380.63L820.78 366.59L821.05 351.91L821.32 337.87L821.58 325.60L821.85 316.07L822.11 309.90L822.38 317.64L822.64 329.58L822.91 344.95L823.17 362.56L823.44 380.94L823.71 398.55L823.97 413.92L824.24 425.86L824.50 433.60L824.77 425.47L825.03 412.92L825.30 396.77L825.57 378.26L825.83 358.94L826.10 340.43L826.36 324.28L826.63 311.73L826.89 303.60L827.16 310.39L827.42 320.88L827.69 334.37L827.96 349.83L828.22 365.97L828.49 381.43L828.75 394.92L829.02 405.41L829.28 412.20L829.55 405.08L829.82 394.10L830.08 379.96L830.35 363.76L830.61 346.84L830.88 330.64L831.14 316.50L831.41 305.52L831.67 298.40L831.94 306.59L832.21 319.24L832.47 335.52L832.74 354.16L833.00 373.64L833.27 392.28L833.53 408.56L833.80 421.21L834.07 429.40L834.33 423.06L834.60 413.27L834.86 400.67L835.13 386.24L835.39 371.16L835.66 356.73L835.93 344.13L836.19 334.34L836.46 328.00L836.72 334.90L836.99 345.55L837.25 359.25L837.52 374.95L837.78 391.35L838.05 407.05L838.32 420.75L838.58 431.40L838.85 438.30L839.11 430.31L839.38 417.97L839.64 402.09L839.91 383.90L840.18 364.90L840.44 346.71L840.71 330.83L840.97 318.49L841.24 310.50L841.50 317.09L841.77 327.27L842.03 340.36L842.30 355.37L842.57 371.03L842.83 386.04L843.10 399.13L843.36 409.31L843.63 415.90L843.89 409.92L844.16 400.69L844.43 388.81L844.69 375.20L844.96 361.00L845.22 347.39L845.49 335.51L845.75 326.28L846.02 320.30"/>
</g>
<path d="M73.50,9.50H425.50V219.50H73.50Z" fill="none" stroke="#000" stroke-width="1.11" stroke-linejoin="miter" stroke-linecap="square"/>
<path d="M68.60,44.50H73.50M68.60,78.50H73.50M68.60,113.50H73.50M68.60,148.50H73.50M68.60,182.50H73.50M68.60,217.50H73.50M108.50,219.50V224.40M178.50,219.50V224.40M249.50,219.50V224.40M319.50,219.50V224.40M390.50,219.50V224.40" stroke="#000" stroke-width="1.11" fill="none"/>
<path d="M496.50,9.50H848.50V219.50H496.50Z" fill="none" stroke="#000" stroke-width="1.11" stroke-linejoin="miter" stroke-linecap="square"/>
<path d="M491.60,44.50H496.50M491.60,78.50H496.50M491.60,113.50H496.50M491.60,148.50H496.50M491.60,182.50H496.50M491.60,217.50H496.50M531.50,219.50V224.40M601.50,219.50V224.40M672.50,219.50V224.40M742.50,219.50V224.40M813.50,219.50V224.40" stroke="#000" stroke-width="1.11" fill="none"/>
<path d="M73.50,261.50H425.50V471.50H73.50Z" fill="none" stroke="#000" stroke-width="1.11" stroke-linejoin="miter" stroke-linecap="square"/>
<path d="M68.60,296.50H73.50M68.60,330.50H73.50M68.60,365.50H73.50M68.60,400.50H73.50M68.60,434.50H73.50M68.60,469.50H73.50M108.50,471.50V476.40M178.50,471.50V476.40M249.50,471.50V476.40M319.50,471.50V476.40M390.50,471.50V476.40" stroke="#000" stroke-width="1.11" fill="none"/>
<path d="M496.50,261.50H848.50V471.50H496.50Z" fill="none" stroke="#000" stroke-width="1.11" stroke-linejoin="miter" stroke-linecap="square"/>
<path d="M491.60,296.50H496.50M491.60,330.50H496.50M491.60,365.50H496.50M491.60,400.50H496.50M491.60,434.50H496.50M491.60,469.50H496.50M531.50,471.50V476.40M601.50,471.50V476.40M672.50,471.50V476.40M742.50,471.50V476.40M813.50,471.50V476.40" stroke="#000" stroke-width="1.11" fill="none"/>
<text x="62.00" y="50.00" text-anchor="end" textLength="20.80" lengthAdjust="spacingAndGlyphs" style="font-size:14.00px">5.0</text>
<text x="62.00" y="84.00" text-anchor="end" textLength="20.80" lengthAdjust="spacingAndGlyphs" style="font-size:14.00px">2.5</text>
<text x="62.00" y="119.00" text-anchor="end" textLength="20.80" lengthAdjust="spacingAndGlyphs" style="font-size:14.00px">0.0</text>
<text x="62.00" y="154.00" text-anchor="end" textLength="20.80" lengthAdjust="spacingAndGlyphs" style="font-size:14.00px">2.5</text>
<rect x="31.55" y="149.00" width="8.70" height="1.15" fill="#000"/>
<text x="62.00" y="188.00" text-anchor="end" textLength="20.80" lengthAdjust="spacingAndGlyphs" style="font-size:14.00px">5.0</text>
<rect x="31.55" y="183.00" width="8.70" height="1.15" fill="#000"/>
<text x="62.00" y="223.00" text-anchor="end" textLength="20.80" lengthAdjust="spacingAndGlyphs" style="font-size:14.00px">7.5</text>
<rect x="31.55" y="218.00" width="8.70" height="1.15" fill="#000"/>
<text x="62.00" y="302.00" text-anchor="end" textLength="20.80" lengthAdjust="spacingAndGlyphs" style="font-size:14.00px">5.0</text>
<text x="62.00" y="336.00" text-anchor="end" textLength="20.80" lengthAdjust="spacingAndGlyphs" style="font-size:14.00px">2.5</text>
<text x="62.00" y="371.00" text-anchor="end" textLength="20.80" lengthAdjust="spacingAndGlyphs" style="font-size:14.00px">0.0</text>
<text x="62.00" y="406.00" text-anchor="end" textLength="20.80" lengthAdjust="spacingAndGlyphs" style="font-size:14.00px">2.5</text>
<rect x="31.55" y="401.00" width="8.70" height="1.15" fill="#000"/>
<text x="62.00" y="440.00" text-anchor="end" textLength="20.80" lengthAdjust="spacingAndGlyphs" style="font-size:14.00px">5.0</text>
<rect x="31.55" y="435.00" width="8.70" height="1.15" fill="#000"/>
<text x="62.00" y="475.00" text-anchor="end" textLength="20.80" lengthAdjust="spacingAndGlyphs" style="font-size:14.00px">7.5</text>
<rect x="31.55" y="470.00" width="8.70" height="1.15" fill="#000"/>
<text x="107.90" y="493.00" text-anchor="middle" textLength="29.40" lengthAdjust="spacingAndGlyphs" style="font-size:14.00px">0.46</text>
<text x="177.90" y="493.00" text-anchor="middle" textLength="29.40" lengthAdjust="spacingAndGlyphs" style="font-size:14.00px">0.48</text>
<text x="248.90" y="493.00" text-anchor="middle" textLength="29.40" lengthAdjust="spacingAndGlyphs" style="font-size:14.00px">0.50</text>
<text x="318.90" y="493.00" text-anchor="middle" textLength="29.40" lengthAdjust="spacingAndGlyphs" style="font-size:14.00px">0.52</text>
<text x="389.90" y="493.00" text-anchor="middle" textLength="29.40" lengthAdjust="spacingAndGlyphs" style="font-size:14.00px">0.54</text>
<text x="530.90" y="493.00" text-anchor="middle" textLength="29.40" lengthAdjust="spacingAndGlyphs" style="font-size:14.00px">0.46</text>
<text x="600.90" y="493.00" text-anchor="middle" textLength="29.40" lengthAdjust="spacingAndGlyphs" style="font-size:14.00px">0.48</text>
<text x="671.90" y="493.00" text-anchor="middle" textLength="29.40" lengthAdjust="spacingAndGlyphs" style="font-size:14.00px">0.50</text>
<text x="741.90" y="493.00" text-anchor="middle" textLength="29.40" lengthAdjust="spacingAndGlyphs" style="font-size:14.00px">0.52</text>
<text x="812.90" y="493.00" text-anchor="middle" textLength="29.40" lengthAdjust="spacingAndGlyphs" style="font-size:14.00px">0.54</text>
<text transform="translate(22.00,117.20) rotate(-90)" text-anchor="middle" textLength="19.00" lengthAdjust="spacingAndGlyphs" style="font-size:15.00px">1Y-</text>
<text transform="translate(483.00,117.20) rotate(-90)" text-anchor="middle" textLength="28.50" lengthAdjust="spacingAndGlyphs" style="font-size:15.00px">12Y-</text>
<text transform="translate(22.00,369.20) rotate(-90)" text-anchor="middle" textLength="28.50" lengthAdjust="spacingAndGlyphs" style="font-size:15.00px">18Y-</text>
<text transform="translate(483.00,369.20) rotate(-90)" text-anchor="middle" textLength="28.50" lengthAdjust="spacingAndGlyphs" style="font-size:15.00px">23Y-</text>
</svg></body></html>
